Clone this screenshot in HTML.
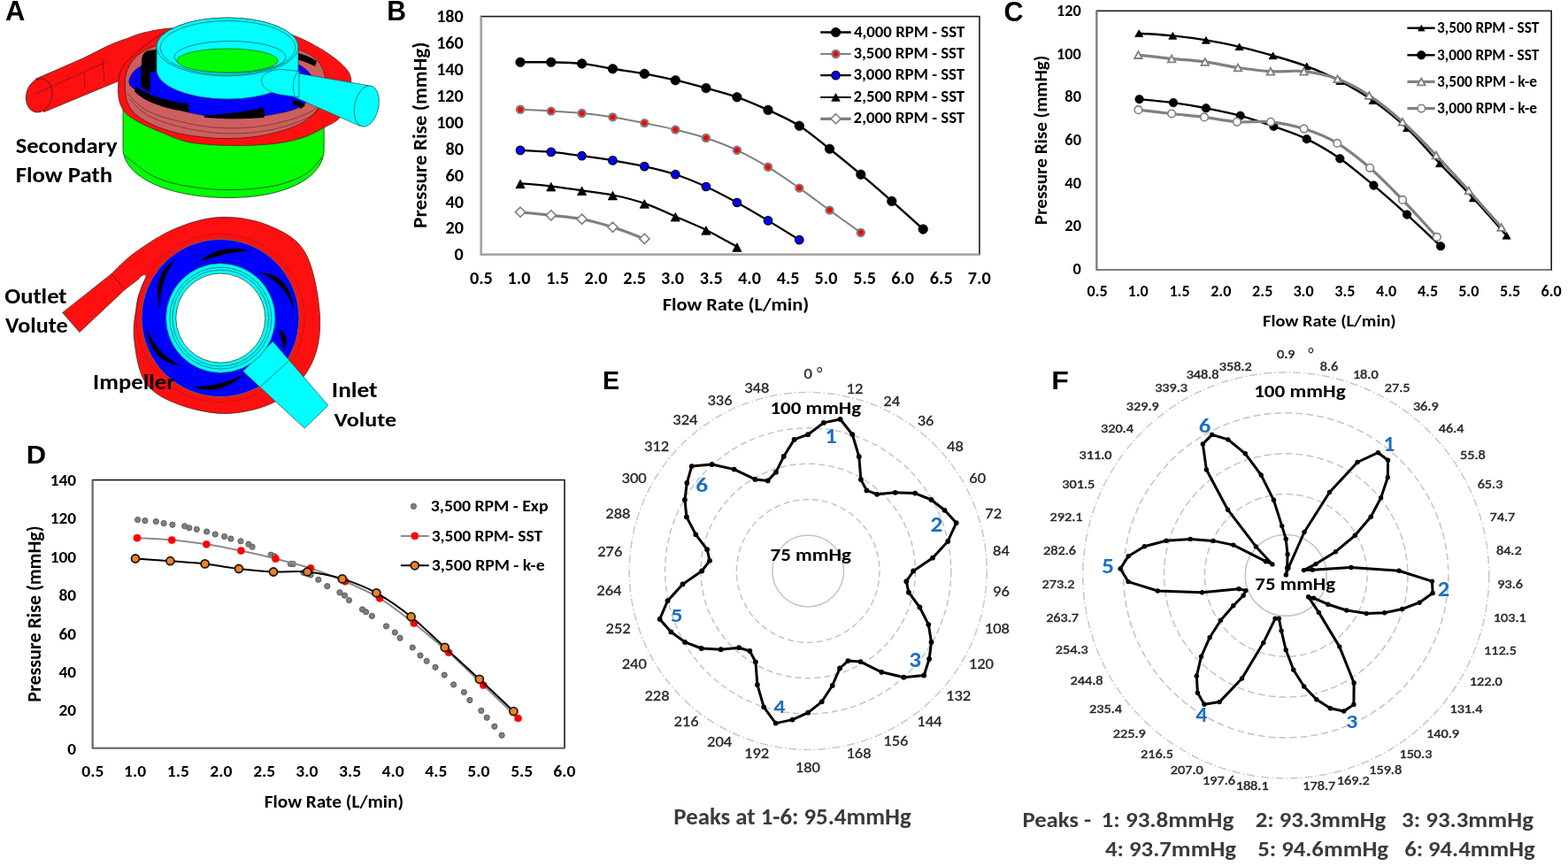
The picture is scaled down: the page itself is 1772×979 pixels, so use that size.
<!DOCTYPE html>
<html><head><meta charset="utf-8"><title>Figure</title>
<style>html,body{margin:0;padding:0;background:#fff;} svg{display:block;}</style>
</head><body>
<svg width="1772" height="979" viewBox="0 0 1772 979">
<rect x="0" y="0" width="1772" height="979" fill="#fff"/>
<rect x="543.6" y="18.6" width="563.3" height="269.0" fill="none" stroke="#1a1a1a" stroke-width="1.6"/>
<line x1="543.6" y1="18.6" x2="543.6" y2="287.6" stroke="#a6a6a6" stroke-width="1.8"/>
<line x1="543.6" y1="287.6" x2="1106.9" y2="287.6" stroke="#a6a6a6" stroke-width="1.8"/>
<path d="M588.0,239.8 C593.8,240.4 611.2,242.1 622.8,243.4 C634.4,244.7 646.0,245.5 657.6,247.7 C669.2,249.9 680.6,253.1 692.4,256.8 C704.2,260.5 722.3,267.7 728.3,269.9" fill="none" stroke="#7f7f7f" stroke-width="3.2" stroke-linejoin="round" stroke-linecap="round"/>
<polygon points="588.0,234.2 593.6,239.8 588.0,245.4 582.4,239.8" fill="#fff" stroke="#7f7f7f" stroke-width="1.6"/>
<polygon points="622.8,237.8 628.4,243.4 622.8,249.0 617.2,243.4" fill="#fff" stroke="#7f7f7f" stroke-width="1.6"/>
<polygon points="657.6,242.1 663.2,247.7 657.6,253.3 652.0,247.7" fill="#fff" stroke="#7f7f7f" stroke-width="1.6"/>
<polygon points="692.4,251.2 698.0,256.8 692.4,262.4 686.8,256.8" fill="#fff" stroke="#7f7f7f" stroke-width="1.6"/>
<polygon points="728.3,264.3 733.9,269.9 728.3,275.5 722.7,269.9" fill="#fff" stroke="#7f7f7f" stroke-width="1.6"/>
<path d="M588.0,207.4 C593.8,207.9 611.2,209.3 622.8,210.6 C634.4,211.9 646.0,213.7 657.6,215.3 C669.2,217.0 680.6,218.1 692.4,220.5 C704.2,222.9 716.5,225.9 728.3,229.9 C740.1,233.9 751.7,239.7 763.3,244.7 C774.9,249.7 786.3,254.2 797.9,259.9 C809.5,265.6 827.1,275.8 832.9,279.0" fill="none" stroke="#000" stroke-width="2.2" stroke-linejoin="round" stroke-linecap="round"/>
<polygon points="588.0,203.2 593.1,212.8 582.9,212.8" fill="#000" stroke="#000" stroke-width="0.8" stroke-linejoin="miter"/>
<polygon points="622.8,206.4 627.9,216.0 617.7,216.0" fill="#000" stroke="#000" stroke-width="0.8" stroke-linejoin="miter"/>
<polygon points="657.6,211.1 662.7,220.7 652.5,220.7" fill="#000" stroke="#000" stroke-width="0.8" stroke-linejoin="miter"/>
<polygon points="692.4,216.3 697.5,225.9 687.3,225.9" fill="#000" stroke="#000" stroke-width="0.8" stroke-linejoin="miter"/>
<polygon points="728.3,225.7 733.4,235.3 723.2,235.3" fill="#000" stroke="#000" stroke-width="0.8" stroke-linejoin="miter"/>
<polygon points="763.3,240.5 768.4,250.1 758.2,250.1" fill="#000" stroke="#000" stroke-width="0.8" stroke-linejoin="miter"/>
<polygon points="797.9,255.7 803.0,265.3 792.8,265.3" fill="#000" stroke="#000" stroke-width="0.8" stroke-linejoin="miter"/>
<polygon points="832.9,274.8 838.0,284.4 827.8,284.4" fill="#000" stroke="#000" stroke-width="0.8" stroke-linejoin="miter"/>
<path d="M588.0,169.9 C593.8,170.2 611.2,170.9 622.8,171.9 C634.4,172.9 646.0,174.6 657.6,176.2 C669.2,177.8 680.6,179.4 692.4,181.4 C704.2,183.4 716.5,185.5 728.3,188.1 C740.1,190.7 751.7,193.4 763.3,197.2 C774.9,201.0 786.3,205.7 797.9,211.0 C809.5,216.3 821.2,222.6 832.9,229.0 C844.6,235.4 856.3,242.4 868.0,249.4 C879.7,256.4 897.4,267.6 903.3,271.2" fill="none" stroke="#000" stroke-width="2.2" stroke-linejoin="round" stroke-linecap="round"/>
<circle cx="588.0" cy="169.9" r="4.70" fill="#0000ff" stroke="#000" stroke-width="1.3"/>
<circle cx="622.8" cy="171.9" r="4.70" fill="#0000ff" stroke="#000" stroke-width="1.3"/>
<circle cx="657.6" cy="176.2" r="4.70" fill="#0000ff" stroke="#000" stroke-width="1.3"/>
<circle cx="692.4" cy="181.4" r="4.70" fill="#0000ff" stroke="#000" stroke-width="1.3"/>
<circle cx="728.3" cy="188.1" r="4.70" fill="#0000ff" stroke="#000" stroke-width="1.3"/>
<circle cx="763.3" cy="197.2" r="4.70" fill="#0000ff" stroke="#000" stroke-width="1.3"/>
<circle cx="797.9" cy="211.0" r="4.70" fill="#0000ff" stroke="#000" stroke-width="1.3"/>
<circle cx="832.9" cy="229.0" r="4.70" fill="#0000ff" stroke="#000" stroke-width="1.3"/>
<circle cx="868.0" cy="249.4" r="4.70" fill="#0000ff" stroke="#000" stroke-width="1.3"/>
<circle cx="903.3" cy="271.2" r="4.70" fill="#0000ff" stroke="#000" stroke-width="1.3"/>
<path d="M588.0,123.7 C593.8,124.0 611.2,124.9 622.8,125.6 C634.4,126.3 646.0,126.9 657.6,128.0 C669.2,129.1 680.6,130.6 692.4,132.4 C704.2,134.2 716.5,136.7 728.3,139.1 C740.1,141.5 751.7,143.8 763.3,146.6 C774.9,149.4 786.3,152.1 797.9,156.0 C809.5,159.9 821.2,164.3 832.9,169.8 C844.6,175.3 856.3,181.7 868.0,188.8 C879.7,195.9 891.7,204.5 903.3,212.6 C914.9,220.7 925.9,229.2 937.5,237.6 C949.1,246.0 966.9,258.8 972.8,263.0" fill="none" stroke="#7f7f7f" stroke-width="2.0" stroke-linejoin="round" stroke-linecap="round"/>
<circle cx="588.0" cy="123.7" r="4.10" fill="#ff0000" stroke="#7f7f7f" stroke-width="2.2"/>
<circle cx="622.8" cy="125.6" r="4.10" fill="#ff0000" stroke="#7f7f7f" stroke-width="2.2"/>
<circle cx="657.6" cy="128.0" r="4.10" fill="#ff0000" stroke="#7f7f7f" stroke-width="2.2"/>
<circle cx="692.4" cy="132.4" r="4.10" fill="#ff0000" stroke="#7f7f7f" stroke-width="2.2"/>
<circle cx="728.3" cy="139.1" r="4.10" fill="#ff0000" stroke="#7f7f7f" stroke-width="2.2"/>
<circle cx="763.3" cy="146.6" r="4.10" fill="#ff0000" stroke="#7f7f7f" stroke-width="2.2"/>
<circle cx="797.9" cy="156.0" r="4.10" fill="#ff0000" stroke="#7f7f7f" stroke-width="2.2"/>
<circle cx="832.9" cy="169.8" r="4.10" fill="#ff0000" stroke="#7f7f7f" stroke-width="2.2"/>
<circle cx="868.0" cy="188.8" r="4.10" fill="#ff0000" stroke="#7f7f7f" stroke-width="2.2"/>
<circle cx="903.3" cy="212.6" r="4.10" fill="#ff0000" stroke="#7f7f7f" stroke-width="2.2"/>
<circle cx="937.5" cy="237.6" r="4.10" fill="#ff0000" stroke="#7f7f7f" stroke-width="2.2"/>
<circle cx="972.8" cy="263.0" r="4.10" fill="#ff0000" stroke="#7f7f7f" stroke-width="2.2"/>
<path d="M588.0,70.3 C593.8,70.3 611.2,70.0 622.8,70.3 C634.4,70.6 646.0,70.7 657.6,71.9 C669.2,73.2 680.6,75.9 692.4,77.8 C704.2,79.7 716.5,81.2 728.3,83.4 C740.1,85.6 751.7,88.0 763.3,90.7 C774.9,93.4 786.3,96.4 797.9,99.6 C809.5,102.8 821.2,105.7 832.9,109.8 C844.6,113.9 856.3,119.0 868.0,124.4 C879.7,129.8 891.7,134.9 903.3,142.2 C914.9,149.5 925.9,159.1 937.5,168.3 C949.1,177.5 961.1,187.3 972.8,197.2 C984.5,207.0 996.1,217.1 1007.8,227.4 C1019.5,237.7 1037.3,253.8 1043.2,259.1" fill="none" stroke="#000" stroke-width="2.4" stroke-linejoin="round" stroke-linecap="round"/>
<circle cx="588.0" cy="70.3" r="5.30" fill="#000" stroke="#000" stroke-width="0.6"/>
<circle cx="622.8" cy="70.3" r="5.30" fill="#000" stroke="#000" stroke-width="0.6"/>
<circle cx="657.6" cy="71.9" r="5.30" fill="#000" stroke="#000" stroke-width="0.6"/>
<circle cx="692.4" cy="77.8" r="5.30" fill="#000" stroke="#000" stroke-width="0.6"/>
<circle cx="728.3" cy="83.4" r="5.30" fill="#000" stroke="#000" stroke-width="0.6"/>
<circle cx="763.3" cy="90.7" r="5.30" fill="#000" stroke="#000" stroke-width="0.6"/>
<circle cx="797.9" cy="99.6" r="5.30" fill="#000" stroke="#000" stroke-width="0.6"/>
<circle cx="832.9" cy="109.8" r="5.30" fill="#000" stroke="#000" stroke-width="0.6"/>
<circle cx="868.0" cy="124.4" r="5.30" fill="#000" stroke="#000" stroke-width="0.6"/>
<circle cx="903.3" cy="142.2" r="5.30" fill="#000" stroke="#000" stroke-width="0.6"/>
<circle cx="937.5" cy="168.3" r="5.30" fill="#000" stroke="#000" stroke-width="0.6"/>
<circle cx="972.8" cy="197.2" r="5.30" fill="#000" stroke="#000" stroke-width="0.6"/>
<circle cx="1007.8" cy="227.4" r="5.30" fill="#000" stroke="#000" stroke-width="0.6"/>
<circle cx="1043.2" cy="259.1" r="5.30" fill="#000" stroke="#000" stroke-width="0.6"/>
<line x1="927.2" y1="36.5" x2="961.7" y2="36.5" stroke="#000" stroke-width="2.4"/><circle cx="944.5" cy="36.5" r="5.30" fill="#000" stroke="#000" stroke-width="0.6"/>
<line x1="927.2" y1="61.0" x2="961.7" y2="61.0" stroke="#7f7f7f" stroke-width="2"/><circle cx="944.5" cy="61.0" r="4.10" fill="#ff0000" stroke="#7f7f7f" stroke-width="2.2"/>
<line x1="927.2" y1="85.2" x2="961.7" y2="85.2" stroke="#000" stroke-width="2.2"/><circle cx="944.5" cy="85.2" r="4.70" fill="#0000ff" stroke="#000" stroke-width="1.3"/>
<line x1="927.2" y1="110.0" x2="961.7" y2="110.0" stroke="#000" stroke-width="2.2"/><polygon points="944.5,105.7 949.2,114.3 939.8,114.3" fill="#000" stroke="#000" stroke-width="0.8" stroke-linejoin="miter"/>
<line x1="927.2" y1="134.3" x2="961.7" y2="134.3" stroke="#7f7f7f" stroke-width="3.2"/><polygon points="944.5,128.7 950.1,134.3 944.5,139.9 938.9,134.3" fill="#fff" stroke="#7f7f7f" stroke-width="1.6"/>
<rect x="1239.4" y="12.3" width="513.8" height="292.9" fill="none" stroke="#1a1a1a" stroke-width="1.6"/>
<line x1="1239.4" y1="12.3" x2="1239.4" y2="305.2" stroke="#7f7f7f" stroke-width="1.8"/>
<line x1="1239.4" y1="305.2" x2="1753.2" y2="305.2" stroke="#7f7f7f" stroke-width="1.8"/>
<path d="M1287.2,37.7 C1293.5,38.2 1312.7,39.1 1325.3,40.4 C1337.9,41.7 1350.4,43.3 1362.9,45.4 C1375.5,47.5 1388.0,49.9 1400.6,52.8 C1413.2,55.7 1425.9,59.2 1438.6,62.9 C1451.3,66.6 1464.1,70.1 1476.7,74.9 C1489.3,79.7 1501.8,85.1 1514.3,91.6 C1526.8,98.1 1539.0,104.8 1551.6,113.7 C1564.2,122.6 1577.4,133.0 1590.0,144.8 C1602.6,156.7 1614.5,171.6 1627.0,184.8 C1639.5,198.0 1652.3,210.4 1664.9,224.0 C1677.5,237.6 1696.3,259.2 1702.6,266.3" fill="none" stroke="#000" stroke-width="2.4" stroke-linejoin="round" stroke-linecap="round"/>
<polygon points="1287.2,33.8 1291.7,41.6 1282.7,41.6" fill="#000" stroke="#000" stroke-width="0.8" stroke-linejoin="miter"/>
<polygon points="1325.3,36.5 1329.8,44.3 1320.8,44.3" fill="#000" stroke="#000" stroke-width="0.8" stroke-linejoin="miter"/>
<polygon points="1362.9,41.5 1367.4,49.3 1358.4,49.3" fill="#000" stroke="#000" stroke-width="0.8" stroke-linejoin="miter"/>
<polygon points="1400.6,48.9 1405.1,56.7 1396.1,56.7" fill="#000" stroke="#000" stroke-width="0.8" stroke-linejoin="miter"/>
<polygon points="1438.6,59.0 1443.1,66.8 1434.1,66.8" fill="#000" stroke="#000" stroke-width="0.8" stroke-linejoin="miter"/>
<polygon points="1476.7,71.0 1481.2,78.8 1472.2,78.8" fill="#000" stroke="#000" stroke-width="0.8" stroke-linejoin="miter"/>
<polygon points="1514.3,87.7 1518.8,95.5 1509.8,95.5" fill="#000" stroke="#000" stroke-width="0.8" stroke-linejoin="miter"/>
<polygon points="1551.6,109.8 1556.1,117.6 1547.1,117.6" fill="#000" stroke="#000" stroke-width="0.8" stroke-linejoin="miter"/>
<polygon points="1590.0,140.9 1594.5,148.7 1585.5,148.7" fill="#000" stroke="#000" stroke-width="0.8" stroke-linejoin="miter"/>
<polygon points="1627.0,180.9 1631.5,188.7 1622.5,188.7" fill="#000" stroke="#000" stroke-width="0.8" stroke-linejoin="miter"/>
<polygon points="1664.9,220.1 1669.4,227.9 1660.4,227.9" fill="#000" stroke="#000" stroke-width="0.8" stroke-linejoin="miter"/>
<polygon points="1702.6,262.4 1707.1,270.2 1698.1,270.2" fill="#000" stroke="#000" stroke-width="0.8" stroke-linejoin="miter"/>
<path d="M1287.6,112.2 C1294.0,112.8 1313.5,114.4 1326.0,116.1 C1338.5,117.8 1350.3,119.8 1362.9,122.3 C1375.5,124.8 1389.0,127.4 1401.7,130.8 C1414.5,134.2 1426.9,138.5 1439.4,142.9 C1451.9,147.3 1464.2,151.1 1476.7,157.2 C1489.2,163.3 1501.7,170.6 1514.3,179.3 C1526.9,188.0 1539.8,199.1 1552.4,209.6 C1565.0,220.1 1577.4,231.1 1590.0,242.6 C1602.6,254.1 1621.8,272.4 1628.1,278.3" fill="none" stroke="#000" stroke-width="2.4" stroke-linejoin="round" stroke-linecap="round"/>
<circle cx="1287.6" cy="112.2" r="4.80" fill="#000" stroke="#000" stroke-width="0.6"/>
<circle cx="1326.0" cy="116.1" r="4.80" fill="#000" stroke="#000" stroke-width="0.6"/>
<circle cx="1362.9" cy="122.3" r="4.80" fill="#000" stroke="#000" stroke-width="0.6"/>
<circle cx="1401.7" cy="130.8" r="4.80" fill="#000" stroke="#000" stroke-width="0.6"/>
<circle cx="1439.4" cy="142.9" r="4.80" fill="#000" stroke="#000" stroke-width="0.6"/>
<circle cx="1476.7" cy="157.2" r="4.80" fill="#000" stroke="#000" stroke-width="0.6"/>
<circle cx="1514.3" cy="179.3" r="4.80" fill="#000" stroke="#000" stroke-width="0.6"/>
<circle cx="1552.4" cy="209.6" r="4.80" fill="#000" stroke="#000" stroke-width="0.6"/>
<circle cx="1590.0" cy="242.6" r="4.80" fill="#000" stroke="#000" stroke-width="0.6"/>
<circle cx="1628.1" cy="278.3" r="4.80" fill="#000" stroke="#000" stroke-width="0.6"/>
<path d="M1286.4,62.1 C1292.7,62.8 1311.5,65.1 1324.1,66.4 C1336.7,67.7 1349.3,68.2 1361.8,69.9 C1374.3,71.6 1386.7,74.7 1399.0,76.5 C1411.3,78.3 1423.5,80.0 1435.9,80.7 C1448.3,81.4 1461.0,79.3 1473.6,80.7 C1486.2,82.1 1499.3,84.8 1511.6,89.3 C1523.9,93.8 1535.1,99.8 1547.3,107.9 C1559.5,116.0 1572.4,126.5 1585.0,137.8 C1597.6,149.1 1610.5,162.6 1623.0,175.5 C1635.5,188.4 1647.6,201.9 1659.9,215.5 C1672.2,229.1 1690.7,250.1 1696.8,257.0" fill="none" stroke="#808080" stroke-width="3.2" stroke-linejoin="round" stroke-linecap="round"/>
<polygon points="1286.4,58.2 1290.7,66.0 1282.1,66.0" fill="#fff" stroke="#808080" stroke-width="1.8" stroke-linejoin="miter"/>
<polygon points="1324.1,62.5 1328.4,70.3 1319.8,70.3" fill="#fff" stroke="#808080" stroke-width="1.8" stroke-linejoin="miter"/>
<polygon points="1361.8,66.0 1366.1,73.8 1357.5,73.8" fill="#fff" stroke="#808080" stroke-width="1.8" stroke-linejoin="miter"/>
<polygon points="1399.0,72.6 1403.3,80.4 1394.7,80.4" fill="#fff" stroke="#808080" stroke-width="1.8" stroke-linejoin="miter"/>
<polygon points="1435.9,76.8 1440.2,84.6 1431.6,84.6" fill="#fff" stroke="#808080" stroke-width="1.8" stroke-linejoin="miter"/>
<polygon points="1473.6,76.8 1477.9,84.6 1469.3,84.6" fill="#fff" stroke="#808080" stroke-width="1.8" stroke-linejoin="miter"/>
<polygon points="1511.6,85.4 1515.9,93.2 1507.3,93.2" fill="#fff" stroke="#808080" stroke-width="1.8" stroke-linejoin="miter"/>
<polygon points="1547.3,104.0 1551.6,111.8 1543.0,111.8" fill="#fff" stroke="#808080" stroke-width="1.8" stroke-linejoin="miter"/>
<polygon points="1585.0,133.9 1589.3,141.7 1580.7,141.7" fill="#fff" stroke="#808080" stroke-width="1.8" stroke-linejoin="miter"/>
<polygon points="1623.0,171.6 1627.3,179.4 1618.7,179.4" fill="#fff" stroke="#808080" stroke-width="1.8" stroke-linejoin="miter"/>
<polygon points="1659.9,211.6 1664.2,219.4 1655.6,219.4" fill="#fff" stroke="#808080" stroke-width="1.8" stroke-linejoin="miter"/>
<polygon points="1696.8,253.1 1701.1,260.9 1692.5,260.9" fill="#fff" stroke="#808080" stroke-width="1.8" stroke-linejoin="miter"/>
<path d="M1286.4,124.2 C1292.7,124.9 1311.7,127.1 1324.1,128.5 C1336.5,129.9 1348.7,130.8 1361.0,132.4 C1373.3,134.0 1385.4,136.9 1397.9,137.8 C1410.4,138.7 1423.4,136.5 1436.0,137.8 C1448.6,139.1 1461.1,141.6 1473.6,145.6 C1486.1,149.6 1498.8,154.5 1511.2,161.9 C1523.6,169.3 1535.8,179.1 1548.1,189.8 C1560.4,200.5 1572.4,212.9 1585.0,225.9 C1597.6,238.9 1617.3,260.9 1623.8,267.9" fill="none" stroke="#808080" stroke-width="3.2" stroke-linejoin="round" stroke-linecap="round"/>
<circle cx="1286.4" cy="124.2" r="4.30" fill="#fff" stroke="#808080" stroke-width="1.6"/>
<circle cx="1324.1" cy="128.5" r="4.30" fill="#fff" stroke="#808080" stroke-width="1.6"/>
<circle cx="1361.0" cy="132.4" r="4.30" fill="#fff" stroke="#808080" stroke-width="1.6"/>
<circle cx="1397.9" cy="137.8" r="4.30" fill="#fff" stroke="#808080" stroke-width="1.6"/>
<circle cx="1436.0" cy="137.8" r="4.30" fill="#fff" stroke="#808080" stroke-width="1.6"/>
<circle cx="1473.6" cy="145.6" r="4.30" fill="#fff" stroke="#808080" stroke-width="1.6"/>
<circle cx="1511.2" cy="161.9" r="4.30" fill="#fff" stroke="#808080" stroke-width="1.6"/>
<circle cx="1548.1" cy="189.8" r="4.30" fill="#fff" stroke="#808080" stroke-width="1.6"/>
<circle cx="1585.0" cy="225.9" r="4.30" fill="#fff" stroke="#808080" stroke-width="1.6"/>
<circle cx="1623.8" cy="267.9" r="4.30" fill="#fff" stroke="#808080" stroke-width="1.6"/>
<line x1="1590.4" y1="31.7" x2="1621.6" y2="31.7" stroke="#000" stroke-width="2.4"/><polygon points="1606.3,28.3 1610.1,35.1 1602.5,35.1" fill="#000" stroke="#000" stroke-width="0.6" stroke-linejoin="miter"/>
<line x1="1590.4" y1="62.3" x2="1621.6" y2="62.3" stroke="#000" stroke-width="2.4"/><circle cx="1606.3" cy="62.3" r="4.80" fill="#000" stroke="#000" stroke-width="0.6"/>
<line x1="1590.4" y1="92.4" x2="1621.6" y2="92.4" stroke="#808080" stroke-width="3.2"/><polygon points="1606.3,88.5 1610.6,96.3 1602.0,96.3" fill="#fff" stroke="#808080" stroke-width="1.8" stroke-linejoin="miter"/>
<line x1="1590.4" y1="122.6" x2="1621.6" y2="122.6" stroke="#808080" stroke-width="3.2"/><circle cx="1606.3" cy="122.6" r="4.30" fill="#fff" stroke="#808080" stroke-width="1.6"/>
<rect x="104.6" y="542.6" width="533.4" height="303.1" fill="none" stroke="#1a1a1a" stroke-width="1.6"/>
<line x1="104.6" y1="542.6" x2="104.6" y2="845.7" stroke="#6f6f6f" stroke-width="1.8"/>
<line x1="104.6" y1="845.7" x2="638.0" y2="845.7" stroke="#6f6f6f" stroke-width="1.8"/>
<circle cx="155.6" cy="587.6" r="3.10" fill="#808080" stroke="#5a5a5a" stroke-width="1.0"/>
<circle cx="163.9" cy="588.6" r="3.10" fill="#808080" stroke="#5a5a5a" stroke-width="1.0"/>
<circle cx="176.3" cy="589.5" r="3.10" fill="#808080" stroke="#5a5a5a" stroke-width="1.0"/>
<circle cx="185.1" cy="591.6" r="3.10" fill="#808080" stroke="#5a5a5a" stroke-width="1.0"/>
<circle cx="194.9" cy="593.2" r="3.10" fill="#808080" stroke="#5a5a5a" stroke-width="1.0"/>
<circle cx="208.7" cy="594.8" r="3.10" fill="#808080" stroke="#5a5a5a" stroke-width="1.0"/>
<circle cx="213.8" cy="596.8" r="3.10" fill="#808080" stroke="#5a5a5a" stroke-width="1.0"/>
<circle cx="222.3" cy="598.4" r="3.10" fill="#808080" stroke="#5a5a5a" stroke-width="1.0"/>
<circle cx="233.6" cy="601.0" r="3.10" fill="#808080" stroke="#5a5a5a" stroke-width="1.0"/>
<circle cx="243.2" cy="604.0" r="3.10" fill="#808080" stroke="#5a5a5a" stroke-width="1.0"/>
<circle cx="253.6" cy="606.5" r="3.10" fill="#808080" stroke="#5a5a5a" stroke-width="1.0"/>
<circle cx="260.9" cy="609.0" r="3.10" fill="#808080" stroke="#5a5a5a" stroke-width="1.0"/>
<circle cx="272.0" cy="611.8" r="3.10" fill="#808080" stroke="#5a5a5a" stroke-width="1.0"/>
<circle cx="280.9" cy="615.2" r="3.10" fill="#808080" stroke="#5a5a5a" stroke-width="1.0"/>
<circle cx="285.1" cy="618.2" r="3.10" fill="#808080" stroke="#5a5a5a" stroke-width="1.0"/>
<circle cx="306.2" cy="627.2" r="3.10" fill="#808080" stroke="#5a5a5a" stroke-width="1.0"/>
<circle cx="310.3" cy="628.8" r="3.10" fill="#808080" stroke="#5a5a5a" stroke-width="1.0"/>
<circle cx="328.3" cy="637.5" r="3.10" fill="#808080" stroke="#5a5a5a" stroke-width="1.0"/>
<circle cx="331.3" cy="637.6" r="3.10" fill="#808080" stroke="#5a5a5a" stroke-width="1.0"/>
<circle cx="342.9" cy="647.3" r="3.10" fill="#808080" stroke="#5a5a5a" stroke-width="1.0"/>
<circle cx="351.1" cy="650.0" r="3.10" fill="#808080" stroke="#5a5a5a" stroke-width="1.0"/>
<circle cx="359.8" cy="655.3" r="3.10" fill="#808080" stroke="#5a5a5a" stroke-width="1.0"/>
<circle cx="369.8" cy="662.7" r="3.10" fill="#808080" stroke="#5a5a5a" stroke-width="1.0"/>
<circle cx="383.9" cy="669.8" r="3.10" fill="#808080" stroke="#5a5a5a" stroke-width="1.0"/>
<circle cx="389.5" cy="673.2" r="3.10" fill="#808080" stroke="#5a5a5a" stroke-width="1.0"/>
<circle cx="394.5" cy="678.6" r="3.10" fill="#808080" stroke="#5a5a5a" stroke-width="1.0"/>
<circle cx="409.5" cy="688.9" r="3.10" fill="#808080" stroke="#5a5a5a" stroke-width="1.0"/>
<circle cx="413.6" cy="691.8" r="3.10" fill="#808080" stroke="#5a5a5a" stroke-width="1.0"/>
<circle cx="420.3" cy="696.4" r="3.10" fill="#808080" stroke="#5a5a5a" stroke-width="1.0"/>
<circle cx="436.5" cy="707.9" r="3.10" fill="#808080" stroke="#5a5a5a" stroke-width="1.0"/>
<circle cx="446.3" cy="715.0" r="3.10" fill="#808080" stroke="#5a5a5a" stroke-width="1.0"/>
<circle cx="452.0" cy="721.2" r="3.10" fill="#808080" stroke="#5a5a5a" stroke-width="1.0"/>
<circle cx="466.2" cy="732.0" r="3.10" fill="#808080" stroke="#5a5a5a" stroke-width="1.0"/>
<circle cx="475.0" cy="741.0" r="3.10" fill="#808080" stroke="#5a5a5a" stroke-width="1.0"/>
<circle cx="482.2" cy="747.3" r="3.10" fill="#808080" stroke="#5a5a5a" stroke-width="1.0"/>
<circle cx="492.0" cy="754.3" r="3.10" fill="#808080" stroke="#5a5a5a" stroke-width="1.0"/>
<circle cx="502.2" cy="763.1" r="3.10" fill="#808080" stroke="#5a5a5a" stroke-width="1.0"/>
<circle cx="512.6" cy="773.9" r="3.10" fill="#808080" stroke="#5a5a5a" stroke-width="1.0"/>
<circle cx="524.4" cy="782.5" r="3.10" fill="#808080" stroke="#5a5a5a" stroke-width="1.0"/>
<circle cx="530.8" cy="791.5" r="3.10" fill="#808080" stroke="#5a5a5a" stroke-width="1.0"/>
<circle cx="543.8" cy="803.4" r="3.10" fill="#808080" stroke="#5a5a5a" stroke-width="1.0"/>
<circle cx="550.2" cy="811.2" r="3.10" fill="#808080" stroke="#5a5a5a" stroke-width="1.0"/>
<circle cx="558.8" cy="821.2" r="3.10" fill="#808080" stroke="#5a5a5a" stroke-width="1.0"/>
<circle cx="567.1" cy="831.2" r="3.10" fill="#808080" stroke="#5a5a5a" stroke-width="1.0"/>
<path d="M155.0,608.2 C161.5,608.6 181.1,609.4 194.2,610.6 C207.2,611.8 220.3,613.3 233.3,615.3 C246.3,617.3 259.4,619.9 272.4,622.6 C285.4,625.3 298.4,628.4 311.5,631.7 C324.6,635.0 338.0,638.1 351.1,642.4 C364.2,646.7 377.1,651.6 390.1,657.3 C403.1,662.9 416.2,668.4 429.1,676.3 C442.1,684.2 454.8,694.4 467.8,704.6 C480.8,714.8 493.9,725.9 507.0,737.6 C520.1,749.3 533.1,762.2 546.2,774.6 C559.3,787.0 579.0,805.8 585.5,812.0" fill="none" stroke="#8c8c8c" stroke-width="2.0" stroke-linejoin="round" stroke-linecap="round"/>
<circle cx="155.0" cy="608.2" r="4.10" fill="#ff0000" stroke="#ff2020" stroke-width="0.5"/>
<circle cx="194.2" cy="610.6" r="4.10" fill="#ff0000" stroke="#ff2020" stroke-width="0.5"/>
<circle cx="233.3" cy="615.3" r="4.10" fill="#ff0000" stroke="#ff2020" stroke-width="0.5"/>
<circle cx="272.4" cy="622.6" r="4.10" fill="#ff0000" stroke="#ff2020" stroke-width="0.5"/>
<circle cx="311.5" cy="631.7" r="4.10" fill="#ff0000" stroke="#ff2020" stroke-width="0.5"/>
<circle cx="351.1" cy="642.4" r="4.10" fill="#ff0000" stroke="#ff2020" stroke-width="0.5"/>
<circle cx="390.1" cy="657.3" r="4.10" fill="#ff0000" stroke="#ff2020" stroke-width="0.5"/>
<circle cx="429.1" cy="676.3" r="4.10" fill="#ff0000" stroke="#ff2020" stroke-width="0.5"/>
<circle cx="467.8" cy="704.6" r="4.10" fill="#ff0000" stroke="#ff2020" stroke-width="0.5"/>
<circle cx="507.0" cy="737.6" r="4.10" fill="#ff0000" stroke="#ff2020" stroke-width="0.5"/>
<circle cx="546.2" cy="774.6" r="4.10" fill="#ff0000" stroke="#ff2020" stroke-width="0.5"/>
<circle cx="585.5" cy="812.0" r="4.10" fill="#ff0000" stroke="#ff2020" stroke-width="0.5"/>
<path d="M153.0,631.5 C159.6,632.0 179.3,633.2 192.4,634.2 C205.5,635.2 218.7,635.9 231.6,637.4 C244.5,638.9 257.0,641.5 269.9,643.0 C282.8,644.5 296.1,645.9 309.0,646.5 C321.9,647.1 334.4,645.2 347.4,646.5 C360.4,647.8 373.8,650.4 386.8,654.4 C399.8,658.4 412.4,663.2 425.4,670.3 C438.4,677.4 451.7,686.9 464.6,697.2 C477.5,707.5 489.8,720.1 502.7,731.9 C515.6,743.7 528.8,755.8 541.8,767.8 C554.8,779.8 574.0,798.1 580.4,804.2" fill="none" stroke="#000" stroke-width="2.0" stroke-linejoin="round" stroke-linecap="round"/>
<circle cx="153.0" cy="631.5" r="4.50" fill="#f28020" stroke="#1a1a1a" stroke-width="1.8"/>
<circle cx="192.4" cy="634.2" r="4.50" fill="#f28020" stroke="#1a1a1a" stroke-width="1.8"/>
<circle cx="231.6" cy="637.4" r="4.50" fill="#f28020" stroke="#1a1a1a" stroke-width="1.8"/>
<circle cx="269.9" cy="643.0" r="4.50" fill="#f28020" stroke="#1a1a1a" stroke-width="1.8"/>
<circle cx="309.0" cy="646.5" r="4.50" fill="#f28020" stroke="#1a1a1a" stroke-width="1.8"/>
<circle cx="347.4" cy="646.5" r="4.50" fill="#f28020" stroke="#1a1a1a" stroke-width="1.8"/>
<circle cx="386.8" cy="654.4" r="4.50" fill="#f28020" stroke="#1a1a1a" stroke-width="1.8"/>
<circle cx="425.4" cy="670.3" r="4.50" fill="#f28020" stroke="#1a1a1a" stroke-width="1.8"/>
<circle cx="464.6" cy="697.2" r="4.50" fill="#f28020" stroke="#1a1a1a" stroke-width="1.8"/>
<circle cx="502.7" cy="731.9" r="4.50" fill="#f28020" stroke="#1a1a1a" stroke-width="1.8"/>
<circle cx="541.8" cy="767.8" r="4.50" fill="#f28020" stroke="#1a1a1a" stroke-width="1.8"/>
<circle cx="580.4" cy="804.2" r="4.50" fill="#f28020" stroke="#1a1a1a" stroke-width="1.8"/>
<circle cx="467.4" cy="572.4" r="3.10" fill="#808080" stroke="#5a5a5a" stroke-width="1.0"/>
<line x1="452.9" y1="605.9" x2="484.8" y2="605.9" stroke="#8c8c8c" stroke-width="2"/><circle cx="468.8" cy="605.9" r="4.10" fill="#ff0000" stroke="#ff2020" stroke-width="0.5"/>
<line x1="452.9" y1="639.3" x2="484.8" y2="639.3" stroke="#000" stroke-width="2"/><circle cx="468.8" cy="639.3" r="4.50" fill="#f28020" stroke="#1a1a1a" stroke-width="1.8"/>
<circle cx="913.2" cy="645.5" r="40.4" fill="none" stroke="#c4c4c4" stroke-width="1.5"/>
<circle cx="913.2" cy="645.5" r="80.8" fill="none" stroke="#c4c4c4" stroke-width="1.5" stroke-dasharray="7 4"/>
<circle cx="913.2" cy="645.5" r="121.2" fill="none" stroke="#c4c4c4" stroke-width="1.5" stroke-dasharray="7 4"/>
<circle cx="913.2" cy="645.5" r="161.6" fill="none" stroke="#c4c4c4" stroke-width="1.5" stroke-dasharray="7 4"/>
<circle cx="913.2" cy="645.5" r="202.0" fill="none" stroke="#c8c8c8" stroke-width="1.5" stroke-dasharray="9 3 1.5 3"/>
<polygon points="913.2,491.2 930.8,477.9 949.6,474.0 963.3,491.2 970.8,516.2 972.9,542.1 979.4,554.4 991.2,558.8 1011.7,556.8 1034.1,557.6 1052.5,565.0 1067.5,576.8 1080.7,591.1 1071.2,611.9 1054.0,630.7 1032.2,645.5 1024.3,657.2 1026.9,669.7 1039.4,686.5 1049.3,706.1 1052.5,725.9 1050.1,745.0 1044.2,763.5 1021.4,765.7 996.3,759.8 972.5,748.1 958.4,747.1 949.0,755.5 940.7,775.0 928.7,793.3 913.2,805.7 895.5,813.6 876.6,817.6 863.2,799.3 855.9,774.1 853.9,748.3 847.4,736.0 835.1,732.2 814.7,734.2 792.7,733.0 774.0,725.9 758.4,714.4 745.6,699.9 754.5,679.2 771.5,660.4 793.2,645.5 802.0,633.8 799.1,621.2 786.3,604.3 775.9,584.4 773.9,565.0 776.3,546.0 781.7,527.1 804.7,525.0 829.7,530.6 853.4,541.9 867.7,543.4 876.9,533.8 885.7,516.0 897.6,496.9" fill="none" stroke="#000" stroke-width="3" stroke-linejoin="round"/>
<circle cx="913.2" cy="491.2" r="2.9" fill="#000"/>
<circle cx="930.8" cy="477.9" r="2.9" fill="#000"/>
<circle cx="949.6" cy="474.0" r="2.9" fill="#000"/>
<circle cx="963.3" cy="491.2" r="2.9" fill="#000"/>
<circle cx="970.8" cy="516.2" r="2.9" fill="#000"/>
<circle cx="972.9" cy="542.1" r="2.9" fill="#000"/>
<circle cx="979.4" cy="554.4" r="2.9" fill="#000"/>
<circle cx="991.2" cy="558.8" r="2.9" fill="#000"/>
<circle cx="1011.7" cy="556.8" r="2.9" fill="#000"/>
<circle cx="1034.1" cy="557.6" r="2.9" fill="#000"/>
<circle cx="1052.5" cy="565.0" r="2.9" fill="#000"/>
<circle cx="1067.5" cy="576.8" r="2.9" fill="#000"/>
<circle cx="1080.7" cy="591.1" r="2.9" fill="#000"/>
<circle cx="1071.2" cy="611.9" r="2.9" fill="#000"/>
<circle cx="1054.0" cy="630.7" r="2.9" fill="#000"/>
<circle cx="1032.2" cy="645.5" r="2.9" fill="#000"/>
<circle cx="1024.3" cy="657.2" r="2.9" fill="#000"/>
<circle cx="1026.9" cy="669.7" r="2.9" fill="#000"/>
<circle cx="1039.4" cy="686.5" r="2.9" fill="#000"/>
<circle cx="1049.3" cy="706.1" r="2.9" fill="#000"/>
<circle cx="1052.5" cy="725.9" r="2.9" fill="#000"/>
<circle cx="1050.1" cy="745.0" r="2.9" fill="#000"/>
<circle cx="1044.2" cy="763.5" r="2.9" fill="#000"/>
<circle cx="1021.4" cy="765.7" r="2.9" fill="#000"/>
<circle cx="996.3" cy="759.8" r="2.9" fill="#000"/>
<circle cx="972.5" cy="748.1" r="2.9" fill="#000"/>
<circle cx="958.4" cy="747.1" r="2.9" fill="#000"/>
<circle cx="949.0" cy="755.5" r="2.9" fill="#000"/>
<circle cx="940.7" cy="775.0" r="2.9" fill="#000"/>
<circle cx="928.7" cy="793.3" r="2.9" fill="#000"/>
<circle cx="913.2" cy="805.7" r="2.9" fill="#000"/>
<circle cx="895.5" cy="813.6" r="2.9" fill="#000"/>
<circle cx="876.6" cy="817.6" r="2.9" fill="#000"/>
<circle cx="863.2" cy="799.3" r="2.9" fill="#000"/>
<circle cx="855.9" cy="774.1" r="2.9" fill="#000"/>
<circle cx="853.9" cy="748.3" r="2.9" fill="#000"/>
<circle cx="847.4" cy="736.0" r="2.9" fill="#000"/>
<circle cx="835.1" cy="732.2" r="2.9" fill="#000"/>
<circle cx="814.7" cy="734.2" r="2.9" fill="#000"/>
<circle cx="792.7" cy="733.0" r="2.9" fill="#000"/>
<circle cx="774.0" cy="725.9" r="2.9" fill="#000"/>
<circle cx="758.4" cy="714.4" r="2.9" fill="#000"/>
<circle cx="745.6" cy="699.9" r="2.9" fill="#000"/>
<circle cx="754.5" cy="679.2" r="2.9" fill="#000"/>
<circle cx="771.5" cy="660.4" r="2.9" fill="#000"/>
<circle cx="793.2" cy="645.5" r="2.9" fill="#000"/>
<circle cx="802.0" cy="633.8" r="2.9" fill="#000"/>
<circle cx="799.1" cy="621.2" r="2.9" fill="#000"/>
<circle cx="786.3" cy="604.3" r="2.9" fill="#000"/>
<circle cx="775.9" cy="584.4" r="2.9" fill="#000"/>
<circle cx="773.9" cy="565.0" r="2.9" fill="#000"/>
<circle cx="776.3" cy="546.0" r="2.9" fill="#000"/>
<circle cx="781.7" cy="527.1" r="2.9" fill="#000"/>
<circle cx="804.7" cy="525.0" r="2.9" fill="#000"/>
<circle cx="829.7" cy="530.6" r="2.9" fill="#000"/>
<circle cx="853.4" cy="541.9" r="2.9" fill="#000"/>
<circle cx="867.7" cy="543.4" r="2.9" fill="#000"/>
<circle cx="876.9" cy="533.8" r="2.9" fill="#000"/>
<circle cx="885.7" cy="516.0" r="2.9" fill="#000"/>
<circle cx="897.6" cy="496.9" r="2.9" fill="#000"/>
<circle cx="1453.2" cy="650.4" r="45.9" fill="none" stroke="#c4c4c4" stroke-width="1.5"/>
<circle cx="1453.2" cy="650.4" r="91.8" fill="none" stroke="#c4c4c4" stroke-width="1.5" stroke-dasharray="8 4"/>
<circle cx="1453.2" cy="650.4" r="137.7" fill="none" stroke="#c4c4c4" stroke-width="1.5" stroke-dasharray="8 4"/>
<circle cx="1453.2" cy="650.4" r="183.6" fill="none" stroke="#c4c4c4" stroke-width="1.5" stroke-dasharray="8 4"/>
<circle cx="1453.2" cy="650.4" r="229.5" fill="none" stroke="#c8c8c8" stroke-width="1.5" stroke-dasharray="9 3 1.5 3"/>
<polygon points="1453.2,609.3 1455.1,626.8 1454.6,642.0 1453.3,649.9 1455.9,642.3 1474.0,601.5 1502.5,556.5 1534.1,522.5 1557.4,511.7 1568.5,520.2 1568.3,539.8 1560.6,562.7 1549.2,584.2 1531.3,605.3 1509.4,623.7 1487.0,637.6 1473.4,644.6 1483.3,644.3 1526.9,641.5 1581.0,645.2 1618.4,657.1 1619.1,670.5 1604.0,681.2 1584.7,688.5 1564.7,692.7 1544.3,693.6 1521.8,690.0 1500.8,683.2 1484.6,676.1 1478.6,674.8 1490.4,692.4 1513.8,731.1 1530.1,771.9 1529.9,796.5 1518.7,804.0 1503.4,800.7 1487.8,790.7 1473.6,776.0 1461.8,757.3 1453.2,734.8 1448.1,713.1 1445.3,699.3 1441.1,699.3 1427.8,726.6 1403.5,767.0 1378.1,793.6 1361.0,796.3 1353.4,783.2 1352.3,764.3 1357.5,742.3 1367.1,720.7 1379.5,701.3 1393.8,684.7 1405.1,673.2 1407.9,667.6 1400.1,665.8 1358.5,669.7 1308.3,668.0 1275.1,657.6 1266.1,642.9 1275.2,628.8 1293.3,617.8 1318.0,611.2 1345.2,609.4 1371.1,611.4 1393.8,616.1 1430.4,634.7 1437.9,637.9 1419.4,617.9 1387.5,576.2 1363.4,531.0 1359.3,501.9 1369.7,491.4 1387.8,496.9 1407.3,512.8 1425.2,537.0 1439.4,565.3 1448.7,594.6" fill="none" stroke="#000" stroke-width="3" stroke-linejoin="round"/>
<circle cx="1453.2" cy="609.3" r="2.7" fill="#000"/>
<circle cx="1455.1" cy="626.8" r="2.7" fill="#000"/>
<circle cx="1454.6" cy="642.0" r="2.7" fill="#000"/>
<circle cx="1453.3" cy="649.9" r="2.7" fill="#000"/>
<circle cx="1455.9" cy="642.3" r="2.7" fill="#000"/>
<circle cx="1474.0" cy="601.5" r="2.7" fill="#000"/>
<circle cx="1502.5" cy="556.5" r="2.7" fill="#000"/>
<circle cx="1534.1" cy="522.5" r="2.7" fill="#000"/>
<circle cx="1557.4" cy="511.7" r="2.7" fill="#000"/>
<circle cx="1568.5" cy="520.2" r="2.7" fill="#000"/>
<circle cx="1568.3" cy="539.8" r="2.7" fill="#000"/>
<circle cx="1560.6" cy="562.7" r="2.7" fill="#000"/>
<circle cx="1549.2" cy="584.2" r="2.7" fill="#000"/>
<circle cx="1531.3" cy="605.3" r="2.7" fill="#000"/>
<circle cx="1509.4" cy="623.7" r="2.7" fill="#000"/>
<circle cx="1487.0" cy="637.6" r="2.7" fill="#000"/>
<circle cx="1473.4" cy="644.6" r="2.7" fill="#000"/>
<circle cx="1483.3" cy="644.3" r="2.7" fill="#000"/>
<circle cx="1526.9" cy="641.5" r="2.7" fill="#000"/>
<circle cx="1581.0" cy="645.2" r="2.7" fill="#000"/>
<circle cx="1618.4" cy="657.1" r="2.7" fill="#000"/>
<circle cx="1619.1" cy="670.5" r="2.7" fill="#000"/>
<circle cx="1604.0" cy="681.2" r="2.7" fill="#000"/>
<circle cx="1584.7" cy="688.5" r="2.7" fill="#000"/>
<circle cx="1564.7" cy="692.7" r="2.7" fill="#000"/>
<circle cx="1544.3" cy="693.6" r="2.7" fill="#000"/>
<circle cx="1521.8" cy="690.0" r="2.7" fill="#000"/>
<circle cx="1500.8" cy="683.2" r="2.7" fill="#000"/>
<circle cx="1484.6" cy="676.1" r="2.7" fill="#000"/>
<circle cx="1478.6" cy="674.8" r="2.7" fill="#000"/>
<circle cx="1490.4" cy="692.4" r="2.7" fill="#000"/>
<circle cx="1513.8" cy="731.1" r="2.7" fill="#000"/>
<circle cx="1530.1" cy="771.9" r="2.7" fill="#000"/>
<circle cx="1529.9" cy="796.5" r="2.7" fill="#000"/>
<circle cx="1518.7" cy="804.0" r="2.7" fill="#000"/>
<circle cx="1503.4" cy="800.7" r="2.7" fill="#000"/>
<circle cx="1487.8" cy="790.7" r="2.7" fill="#000"/>
<circle cx="1473.6" cy="776.0" r="2.7" fill="#000"/>
<circle cx="1461.8" cy="757.3" r="2.7" fill="#000"/>
<circle cx="1453.2" cy="734.8" r="2.7" fill="#000"/>
<circle cx="1448.1" cy="713.1" r="2.7" fill="#000"/>
<circle cx="1445.3" cy="699.3" r="2.7" fill="#000"/>
<circle cx="1441.1" cy="699.3" r="2.7" fill="#000"/>
<circle cx="1427.8" cy="726.6" r="2.7" fill="#000"/>
<circle cx="1403.5" cy="767.0" r="2.7" fill="#000"/>
<circle cx="1378.1" cy="793.6" r="2.7" fill="#000"/>
<circle cx="1361.0" cy="796.3" r="2.7" fill="#000"/>
<circle cx="1353.4" cy="783.2" r="2.7" fill="#000"/>
<circle cx="1352.3" cy="764.3" r="2.7" fill="#000"/>
<circle cx="1357.5" cy="742.3" r="2.7" fill="#000"/>
<circle cx="1367.1" cy="720.7" r="2.7" fill="#000"/>
<circle cx="1379.5" cy="701.3" r="2.7" fill="#000"/>
<circle cx="1393.8" cy="684.7" r="2.7" fill="#000"/>
<circle cx="1405.1" cy="673.2" r="2.7" fill="#000"/>
<circle cx="1407.9" cy="667.6" r="2.7" fill="#000"/>
<circle cx="1400.1" cy="665.8" r="2.7" fill="#000"/>
<circle cx="1358.5" cy="669.7" r="2.7" fill="#000"/>
<circle cx="1308.3" cy="668.0" r="2.7" fill="#000"/>
<circle cx="1275.1" cy="657.6" r="2.7" fill="#000"/>
<circle cx="1266.1" cy="642.9" r="2.7" fill="#000"/>
<circle cx="1275.2" cy="628.8" r="2.7" fill="#000"/>
<circle cx="1293.3" cy="617.8" r="2.7" fill="#000"/>
<circle cx="1318.0" cy="611.2" r="2.7" fill="#000"/>
<circle cx="1345.2" cy="609.4" r="2.7" fill="#000"/>
<circle cx="1371.1" cy="611.4" r="2.7" fill="#000"/>
<circle cx="1393.8" cy="616.1" r="2.7" fill="#000"/>
<circle cx="1430.4" cy="634.7" r="2.7" fill="#000"/>
<circle cx="1437.9" cy="637.9" r="2.7" fill="#000"/>
<circle cx="1419.4" cy="617.9" r="2.7" fill="#000"/>
<circle cx="1387.5" cy="576.2" r="2.7" fill="#000"/>
<circle cx="1363.4" cy="531.0" r="2.7" fill="#000"/>
<circle cx="1359.3" cy="501.9" r="2.7" fill="#000"/>
<circle cx="1369.7" cy="491.4" r="2.7" fill="#000"/>
<circle cx="1387.8" cy="496.9" r="2.7" fill="#000"/>
<circle cx="1407.3" cy="512.8" r="2.7" fill="#000"/>
<circle cx="1425.2" cy="537.0" r="2.7" fill="#000"/>
<circle cx="1439.4" cy="565.3" r="2.7" fill="#000"/>
<circle cx="1448.7" cy="594.6" r="2.7" fill="#000"/>
<path d="M139,118 L139,168.7 C140,200 190,223.5 258,223.5 C325,223.5 366,200 366.2,168.7 L366.2,118 Z" fill="#00ff00" stroke="#1a3a1a" stroke-width="0.8"/>
<path d="M141.0,176.0 C146.7,180.0 162.7,194.2 175.0,200.0 C187.3,205.8 200.5,208.6 215.0,211.0 C229.5,213.4 246.2,214.8 262.0,214.6 C277.8,214.4 296.2,212.9 310.0,210.0 C323.8,207.1 336.0,202.3 345.0,197.0 C354.0,191.7 360.8,181.2 364.0,178.0" fill="none" stroke="#1a3a1a" stroke-width="0.8"/>
<path d="M40.2,89.3 L93.6,66 L120.5,52.5 C130,48 136,46 142.6,43.9 C152,40 160,37 167.1,35.9 C176,34 182,33 189.2,32.3 L215,30 L215,70 L133,92 L49.4,126.7 Z" fill="#ff1010" stroke="#3a1a1a" stroke-width="0.7"/>
<ellipse cx="44.2" cy="108" rx="14.5" ry="19.3" transform="rotate(14 44.2 108)" fill="#ff1010" stroke="#3a1a1a" stroke-width="0.7"/>
<path d="M40,106 L120,70 M95,82 L96,100 M116,66 L118,92" stroke="#5a1010" stroke-width="0.6" fill="none"/>
<path d="M133.5,104.0 C133.3,96.2 133.6,85.2 138.0,77.0 C142.4,68.8 151.5,61.8 160.0,55.0 C168.5,48.2 177.3,40.3 189.0,36.0 C200.7,31.7 214.8,30.0 230.0,29.0 C245.2,28.0 264.1,28.5 280.0,30.0 C295.9,31.5 312.4,34.2 325.4,38.0 C338.4,41.8 348.3,47.2 358.1,52.7 C367.9,58.2 377.8,64.8 384.2,70.7 C390.6,76.6 395.2,81.1 396.5,88.0 C397.8,94.9 394.1,104.5 392.0,112.0 C389.9,119.5 388.5,127.4 384.2,132.8 C379.9,138.2 373.4,140.4 366.3,144.2 C359.2,148.0 351.2,152.6 341.7,155.7 C332.1,158.8 322.3,161.0 309.0,162.5 C295.7,164.0 277.7,164.8 262.0,164.5 C246.3,164.2 228.1,163.4 215.0,161.0 C201.9,158.6 193.3,154.0 183.3,150.0 C173.3,146.0 162.4,141.3 155.0,137.0 C147.6,132.7 142.6,129.5 139.0,124.0 C135.4,118.5 133.7,111.8 133.5,104.0Z" fill="#ff1010" stroke="#3a1a1a" stroke-width="0.7"/>
<path d="M141.5,100.0 C141.2,94.0 141.2,87.7 143.0,82.0 C144.8,76.3 147.8,70.5 152.0,66.0 C156.2,61.5 160.8,58.0 168.0,55.0 C175.2,52.0 181.3,49.7 195.0,48.0 C208.7,46.3 232.5,45.0 250.0,45.0 C267.5,45.0 285.0,46.0 300.0,48.0 C315.0,50.0 330.0,53.3 340.0,57.0 C350.0,60.7 355.3,64.5 360.0,70.0 C364.7,75.5 367.0,83.3 368.0,90.0 C369.0,96.7 368.2,103.7 366.0,110.0 C363.8,116.3 360.2,122.7 355.0,128.0 C349.8,133.3 344.2,137.9 335.0,142.0 C325.8,146.1 312.2,150.1 300.0,152.5 C287.8,154.9 275.3,156.2 262.0,156.5 C248.7,156.8 232.8,155.8 220.0,154.0 C207.2,152.2 195.3,149.5 185.0,146.0 C174.7,142.5 164.7,137.7 158.0,133.0 C151.3,128.3 147.8,123.5 145.0,118.0 C142.2,112.5 141.8,106.0 141.5,100.0Z" fill="#cd5f5f" stroke="#3a1a1a" stroke-width="0.7"/>
<path d="M146.0,112.0 C150.0,115.3 158.5,126.3 170.0,132.0 C181.5,137.7 199.7,142.8 215.0,146.0 C230.3,149.2 246.2,151.0 262.0,151.0 C277.8,151.0 295.3,149.2 310.0,146.0 C324.7,142.8 340.8,136.7 350.0,132.0 C359.2,127.3 362.5,120.3 365.0,118.0" fill="none" stroke="#5a2020" stroke-width="0.6"/>
<path d="M144.0,106.0 C148.0,109.3 156.2,120.3 168.0,126.0 C179.8,131.7 199.3,136.8 215.0,140.0 C230.7,143.2 246.2,145.0 262.0,145.0 C277.8,145.0 295.3,143.0 310.0,140.0 C324.7,137.0 340.7,131.7 350.0,127.0 C359.3,122.3 363.3,114.5 366.0,112.0" fill="none" stroke="#5a2020" stroke-width="0.6"/>
<path d="M146.0,94.0 C145.2,90.0 148.0,84.0 152.0,80.0 C156.0,76.0 162.0,72.7 170.0,70.0 C178.0,67.3 186.7,65.3 200.0,64.0 C213.3,62.7 233.3,62.0 250.0,62.0 C266.7,62.0 285.8,62.3 300.0,64.0 C314.2,65.7 326.3,68.3 335.0,72.0 C343.7,75.7 349.2,81.0 352.0,86.0 C354.8,91.0 353.7,96.4 352.0,102.0 C350.3,107.6 348.7,115.1 341.7,119.6 C334.7,124.1 323.2,126.7 310.0,129.1 C296.8,131.5 278.3,134.1 262.5,133.8 C246.7,133.5 228.8,130.5 215.0,127.5 C201.2,124.5 189.7,119.9 180.0,116.0 C170.3,112.1 162.7,107.7 157.0,104.0 C151.3,100.3 146.8,98.0 146.0,94.0Z" fill="#0000ff" stroke="#10104a" stroke-width="0.6"/>
<path d="M160.2,68 C160.5,62 163,58.5 168,57 L178,56 L178,81 L170,81.5 L169.5,104.5 L159.4,98.4 C159,88 159.3,76 160.2,68 Z" fill="#000"/>
<path d="M153.3,97.5 C165,106 185,114 213.4,117.5 L213.4,126.6 C184,123 162,114 152,103.3 Z" fill="#000"/>
<path d="M230.8,130.6 C255,129 280,126 298.5,121.2 L298.5,133 C275,134.5 250,135 230.8,132.8 Z" fill="#000"/>
<path d="M172,58 C180,54 190,51.5 200,50.5 L201,54.5 C190,56 180,59 173,63 Z" fill="#000"/>
<path d="M336.8,60 C345,62 352,65 358,69 L356,75 C350,72 343,69 336.8,67.5 Z" fill="#000"/>
<path d="M331,113 C336,113 341,115 345,119 L340,123 C337,120 334,119 331,119 Z" fill="#000"/>
<path d="M177,53 A80,33 0 0 1 337,53 L337,79 A80,33 0 0 1 177,79 Z" fill="#00ffff" stroke="#1d5050" stroke-width="0.7"/>
<ellipse cx="257" cy="53" rx="80" ry="33" fill="#00ffff" stroke="#1d5050" stroke-width="0.7"/>
<ellipse cx="257.5" cy="54" rx="76.5" ry="30.5" fill="none" stroke="#1d5050" stroke-width="0.7"/>
<ellipse cx="260" cy="64.5" rx="63" ry="18" fill="#00ffff" stroke="#1d5050" stroke-width="0.7"/>
<ellipse cx="257" cy="68.5" rx="57" ry="13.5" fill="#00ff00" stroke="#1a3a1a" stroke-width="0.6"/>
<path d="M336.8,82.9 L416.9,96.8 L407.1,142.6 L328.7,108 Z" fill="#00ffff" stroke="#1d5050" stroke-width="0.7"/>
<path d="M338,80.5 L318,78.5 C303,79 294.5,85 295.5,92 C296.5,100 306,106 320,107.5 L338,110 Z" fill="#00ffff" stroke="#1d5050" stroke-width="0.7"/>
<path d="M336.5,81.5 C331,88 330,100 333,109" fill="none" stroke="#1d5050" stroke-width="0.7"/>
<ellipse cx="414.3" cy="120" rx="13.5" ry="23.5" transform="rotate(12 414.3 120)" fill="#00ffff" stroke="#1d5050" stroke-width="0.7"/>
<path d="M70.7,353.4 L125.9,309.7  C130.2,305.8 140.0,294.6 152.0,286.0 C164.0,277.4 181.7,265.1 198.0,258.4 C214.3,251.6 232.4,246.1 250.0,245.5 C267.6,244.9 287.6,248.2 303.4,254.8 C319.2,261.4 335.0,268.6 344.7,285.2 C354.4,301.8 359.9,333.4 361.3,354.1 C362.7,374.8 360.4,393.2 353.0,409.3 C345.6,425.4 332.4,441.0 317.2,450.6 C302.0,460.2 280.4,465.8 262.0,467.2 C243.6,468.6 222.9,464.4 206.8,458.9 C190.7,453.4 174.7,446.5 165.5,434.1 C156.3,421.7 153.5,399.2 151.7,384.4 C149.8,369.5 153.2,354.6 154.4,345.0 C155.6,335.4 157.3,332.2 159.0,327.0 C160.7,321.8 163.8,315.8 164.8,313.5 C166.5,309.5 161,309 156,316 L141.2,327.3 L89.9,375.6 Z" fill="#ff1010" stroke="#3a1a1a" stroke-width="0.7"/>
<line x1="125.9" y1="309.7" x2="141.2" y2="327.3" stroke="#5a1010" stroke-width="0.7"/>
<circle cx="249" cy="359.6" r="95" fill="none" stroke="#8a1a1a" stroke-width="0.5"/>
<circle cx="249" cy="359.6" r="89" fill="#0000ff" stroke="#6a6a3a" stroke-width="1"/>
<path d="M224.6,296.4 Q247.9,274.8 283.3,283.5 Q252.1,285.2 224.6,296.4Z" fill="#000"/>
<path d="M292.7,308.1 Q327.3,309.0 332.6,350.4 Q320.7,318.0 292.7,308.1Z" fill="#000"/>
<path d="M315.0,371.5 Q329.0,380.8 320.9,395.0 Q318.0,383.2 315.0,371.5Z" fill="#000"/>
<path d="M217.5,437.3 Q247.1,448.6 276.2,423.2 Q246.9,437.4 217.5,437.3Z" fill="#000"/>
<path d="M165.8,370.4 Q169.1,409.0 205.8,413.8 Q176.9,401.0 165.8,370.4Z" fill="#000"/>
<path d="M198.7,292.9 Q170.2,310.2 181.1,350.4 Q179.8,315.8 198.7,292.9Z" fill="#000"/>
<path d="M274.6,419.8 L308.4,385.9 L370.9,458.3 L344.3,484.2 Z" fill="#00ffff" stroke="#1d5050" stroke-width="0.7"/>
<line x1="293.8" y1="437.7" x2="326.4" y2="407.9" stroke="#1d5050" stroke-width="0.7"/>
<circle cx="249.3" cy="359.6" r="61.8" fill="#00ffff" stroke="#1d5050" stroke-width="0.7"/>
<circle cx="249.3" cy="359.6" r="57.5" fill="none" stroke="#1d5050" stroke-width="0.7"/>
<circle cx="249.3" cy="359.6" r="54.5" fill="none" stroke="#1d5050" stroke-width="0.7"/>
<circle cx="249.3" cy="359.6" r="50.5" fill="#fff" stroke="#2a4a2a" stroke-width="0.8"/>
<text x="513.52" y="294.44" font-size="19.20" textLength="10.22" lengthAdjust="spacingAndGlyphs" font-family="Carlito, &quot;Liberation Sans&quot;, sans-serif" font-weight="bold" fill="#000">0</text>
<text x="503.44" y="264.49" font-size="19.20" textLength="20.44" lengthAdjust="spacingAndGlyphs" font-family="Carlito, &quot;Liberation Sans&quot;, sans-serif" font-weight="bold" fill="#000">20</text>
<text x="503.44" y="234.54" font-size="19.20" textLength="20.44" lengthAdjust="spacingAndGlyphs" font-family="Carlito, &quot;Liberation Sans&quot;, sans-serif" font-weight="bold" fill="#000">40</text>
<text x="503.44" y="204.59" font-size="19.20" textLength="20.44" lengthAdjust="spacingAndGlyphs" font-family="Carlito, &quot;Liberation Sans&quot;, sans-serif" font-weight="bold" fill="#000">60</text>
<text x="503.44" y="174.64" font-size="19.20" textLength="20.44" lengthAdjust="spacingAndGlyphs" font-family="Carlito, &quot;Liberation Sans&quot;, sans-serif" font-weight="bold" fill="#000">80</text>
<text x="493.16" y="144.69" font-size="19.20" textLength="30.66" lengthAdjust="spacingAndGlyphs" font-family="Carlito, &quot;Liberation Sans&quot;, sans-serif" font-weight="bold" fill="#000">100</text>
<text x="493.16" y="114.74" font-size="19.20" textLength="30.66" lengthAdjust="spacingAndGlyphs" font-family="Carlito, &quot;Liberation Sans&quot;, sans-serif" font-weight="bold" fill="#000">120</text>
<text x="493.16" y="84.79" font-size="19.20" textLength="30.66" lengthAdjust="spacingAndGlyphs" font-family="Carlito, &quot;Liberation Sans&quot;, sans-serif" font-weight="bold" fill="#000">140</text>
<text x="493.16" y="54.84" font-size="19.20" textLength="30.66" lengthAdjust="spacingAndGlyphs" font-family="Carlito, &quot;Liberation Sans&quot;, sans-serif" font-weight="bold" fill="#000">160</text>
<text x="493.16" y="24.89" font-size="19.20" textLength="30.66" lengthAdjust="spacingAndGlyphs" font-family="Carlito, &quot;Liberation Sans&quot;, sans-serif" font-weight="bold" fill="#000">180</text>
<text x="530.98" y="320.76" font-size="20.20" textLength="25.87" lengthAdjust="spacingAndGlyphs" font-family="Carlito, &quot;Liberation Sans&quot;, sans-serif" font-weight="bold" fill="#000">0.5</text>
<text x="573.50" y="320.76" font-size="20.20" textLength="25.87" lengthAdjust="spacingAndGlyphs" font-family="Carlito, &quot;Liberation Sans&quot;, sans-serif" font-weight="bold" fill="#000">1.0</text>
<text x="617.13" y="320.76" font-size="20.20" textLength="25.87" lengthAdjust="spacingAndGlyphs" font-family="Carlito, &quot;Liberation Sans&quot;, sans-serif" font-weight="bold" fill="#000">1.5</text>
<text x="660.56" y="320.76" font-size="20.20" textLength="25.87" lengthAdjust="spacingAndGlyphs" font-family="Carlito, &quot;Liberation Sans&quot;, sans-serif" font-weight="bold" fill="#000">2.0</text>
<text x="704.19" y="320.76" font-size="20.20" textLength="25.87" lengthAdjust="spacingAndGlyphs" font-family="Carlito, &quot;Liberation Sans&quot;, sans-serif" font-weight="bold" fill="#000">2.5</text>
<text x="747.12" y="320.76" font-size="20.20" textLength="25.87" lengthAdjust="spacingAndGlyphs" font-family="Carlito, &quot;Liberation Sans&quot;, sans-serif" font-weight="bold" fill="#000">3.0</text>
<text x="790.75" y="320.76" font-size="20.20" textLength="25.87" lengthAdjust="spacingAndGlyphs" font-family="Carlito, &quot;Liberation Sans&quot;, sans-serif" font-weight="bold" fill="#000">3.5</text>
<text x="834.08" y="320.76" font-size="20.20" textLength="25.87" lengthAdjust="spacingAndGlyphs" font-family="Carlito, &quot;Liberation Sans&quot;, sans-serif" font-weight="bold" fill="#000">4.0</text>
<text x="877.72" y="320.76" font-size="20.20" textLength="25.87" lengthAdjust="spacingAndGlyphs" font-family="Carlito, &quot;Liberation Sans&quot;, sans-serif" font-weight="bold" fill="#000">4.5</text>
<text x="920.54" y="320.76" font-size="20.20" textLength="25.87" lengthAdjust="spacingAndGlyphs" font-family="Carlito, &quot;Liberation Sans&quot;, sans-serif" font-weight="bold" fill="#000">5.0</text>
<text x="964.17" y="320.76" font-size="20.20" textLength="25.87" lengthAdjust="spacingAndGlyphs" font-family="Carlito, &quot;Liberation Sans&quot;, sans-serif" font-weight="bold" fill="#000">5.5</text>
<text x="1007.20" y="320.76" font-size="20.20" textLength="25.87" lengthAdjust="spacingAndGlyphs" font-family="Carlito, &quot;Liberation Sans&quot;, sans-serif" font-weight="bold" fill="#000">6.0</text>
<text x="1050.83" y="320.76" font-size="20.20" textLength="25.87" lengthAdjust="spacingAndGlyphs" font-family="Carlito, &quot;Liberation Sans&quot;, sans-serif" font-weight="bold" fill="#000">6.5</text>
<text x="1093.76" y="320.76" font-size="20.20" textLength="25.87" lengthAdjust="spacingAndGlyphs" font-family="Carlito, &quot;Liberation Sans&quot;, sans-serif" font-weight="bold" fill="#000">7.0</text>
<text x="748.78" y="350.50" font-size="20.31" textLength="165.45" lengthAdjust="spacingAndGlyphs" font-family="Carlito, &quot;Liberation Sans&quot;, sans-serif" font-weight="bold" fill="#000">Flow Rate (L/min)</text>
<text x="482.00" y="257.89" font-size="21.85" textLength="210.38" lengthAdjust="spacingAndGlyphs" transform="rotate(-90 482.00 257.89)" font-family="Carlito, &quot;Liberation Sans&quot;, sans-serif" font-weight="bold" fill="#000">Pressure Rise (mmHg)</text>
<text x="965.01" y="41.50" font-size="18.77" textLength="125.17" lengthAdjust="spacingAndGlyphs" font-family="Carlito, &quot;Liberation Sans&quot;, sans-serif" font-weight="bold" fill="#000">4,000 RPM - SST</text>
<text x="964.45" y="66.00" font-size="18.77" textLength="125.73" lengthAdjust="spacingAndGlyphs" font-family="Carlito, &quot;Liberation Sans&quot;, sans-serif" font-weight="bold" fill="#000">3,500 RPM - SST</text>
<text x="964.45" y="90.20" font-size="18.77" textLength="125.73" lengthAdjust="spacingAndGlyphs" font-family="Carlito, &quot;Liberation Sans&quot;, sans-serif" font-weight="bold" fill="#000">3,000 RPM - SST</text>
<text x="964.64" y="115.00" font-size="18.77" textLength="125.54" lengthAdjust="spacingAndGlyphs" font-family="Carlito, &quot;Liberation Sans&quot;, sans-serif" font-weight="bold" fill="#000">2,500 RPM - SST</text>
<text x="964.64" y="139.30" font-size="18.77" textLength="125.54" lengthAdjust="spacingAndGlyphs" font-family="Carlito, &quot;Liberation Sans&quot;, sans-serif" font-weight="bold" fill="#000">2,000 RPM - SST</text>
<text x="1212.53" y="309.82" font-size="17.60" textLength="9.28" lengthAdjust="spacingAndGlyphs" font-family="Carlito, &quot;Liberation Sans&quot;, sans-serif" font-weight="bold" fill="#000">0</text>
<text x="1203.38" y="261.22" font-size="17.60" textLength="18.56" lengthAdjust="spacingAndGlyphs" font-family="Carlito, &quot;Liberation Sans&quot;, sans-serif" font-weight="bold" fill="#000">20</text>
<text x="1203.38" y="212.62" font-size="17.60" textLength="18.56" lengthAdjust="spacingAndGlyphs" font-family="Carlito, &quot;Liberation Sans&quot;, sans-serif" font-weight="bold" fill="#000">40</text>
<text x="1203.38" y="164.02" font-size="17.60" textLength="18.56" lengthAdjust="spacingAndGlyphs" font-family="Carlito, &quot;Liberation Sans&quot;, sans-serif" font-weight="bold" fill="#000">60</text>
<text x="1203.38" y="115.42" font-size="17.60" textLength="18.56" lengthAdjust="spacingAndGlyphs" font-family="Carlito, &quot;Liberation Sans&quot;, sans-serif" font-weight="bold" fill="#000">80</text>
<text x="1194.04" y="66.82" font-size="17.60" textLength="27.83" lengthAdjust="spacingAndGlyphs" font-family="Carlito, &quot;Liberation Sans&quot;, sans-serif" font-weight="bold" fill="#000">100</text>
<text x="1194.04" y="18.22" font-size="17.60" textLength="27.83" lengthAdjust="spacingAndGlyphs" font-family="Carlito, &quot;Liberation Sans&quot;, sans-serif" font-weight="bold" fill="#000">120</text>
<text x="1228.59" y="335.15" font-size="17.40" textLength="23.18" lengthAdjust="spacingAndGlyphs" font-family="Carlito, &quot;Liberation Sans&quot;, sans-serif" font-weight="bold" fill="#000">0.5</text>
<text x="1274.53" y="335.15" font-size="17.40" textLength="23.18" lengthAdjust="spacingAndGlyphs" font-family="Carlito, &quot;Liberation Sans&quot;, sans-serif" font-weight="bold" fill="#000">1.0</text>
<text x="1321.46" y="335.15" font-size="17.40" textLength="23.18" lengthAdjust="spacingAndGlyphs" font-family="Carlito, &quot;Liberation Sans&quot;, sans-serif" font-weight="bold" fill="#000">1.5</text>
<text x="1368.21" y="335.15" font-size="17.40" textLength="23.18" lengthAdjust="spacingAndGlyphs" font-family="Carlito, &quot;Liberation Sans&quot;, sans-serif" font-weight="bold" fill="#000">2.0</text>
<text x="1415.14" y="335.15" font-size="17.40" textLength="23.18" lengthAdjust="spacingAndGlyphs" font-family="Carlito, &quot;Liberation Sans&quot;, sans-serif" font-weight="bold" fill="#000">2.5</text>
<text x="1461.44" y="335.15" font-size="17.40" textLength="23.18" lengthAdjust="spacingAndGlyphs" font-family="Carlito, &quot;Liberation Sans&quot;, sans-serif" font-weight="bold" fill="#000">3.0</text>
<text x="1508.37" y="335.15" font-size="17.40" textLength="23.18" lengthAdjust="spacingAndGlyphs" font-family="Carlito, &quot;Liberation Sans&quot;, sans-serif" font-weight="bold" fill="#000">3.5</text>
<text x="1555.03" y="335.15" font-size="17.40" textLength="23.18" lengthAdjust="spacingAndGlyphs" font-family="Carlito, &quot;Liberation Sans&quot;, sans-serif" font-weight="bold" fill="#000">4.0</text>
<text x="1601.96" y="335.15" font-size="17.40" textLength="23.18" lengthAdjust="spacingAndGlyphs" font-family="Carlito, &quot;Liberation Sans&quot;, sans-serif" font-weight="bold" fill="#000">4.5</text>
<text x="1648.17" y="335.15" font-size="17.40" textLength="23.18" lengthAdjust="spacingAndGlyphs" font-family="Carlito, &quot;Liberation Sans&quot;, sans-serif" font-weight="bold" fill="#000">5.0</text>
<text x="1695.10" y="335.15" font-size="17.40" textLength="23.18" lengthAdjust="spacingAndGlyphs" font-family="Carlito, &quot;Liberation Sans&quot;, sans-serif" font-weight="bold" fill="#000">5.5</text>
<text x="1741.49" y="335.15" font-size="17.40" textLength="23.18" lengthAdjust="spacingAndGlyphs" font-family="Carlito, &quot;Liberation Sans&quot;, sans-serif" font-weight="bold" fill="#000">6.0</text>
<text x="1427.08" y="369.00" font-size="18.15" textLength="150.62" lengthAdjust="spacingAndGlyphs" font-family="Carlito, &quot;Liberation Sans&quot;, sans-serif" font-weight="bold" fill="#000">Flow Rate (L/min)</text>
<text x="1182.90" y="254.17" font-size="20.92" textLength="191.53" lengthAdjust="spacingAndGlyphs" transform="rotate(-90 1182.90 254.17)" font-family="Carlito, &quot;Liberation Sans&quot;, sans-serif" font-weight="bold" fill="#000">Pressure Rise (mmHg)</text>
<text x="1624.01" y="37.30" font-size="17.23" textLength="115.26" lengthAdjust="spacingAndGlyphs" font-family="Carlito, &quot;Liberation Sans&quot;, sans-serif" font-weight="bold" fill="#000">3,500 RPM - SST</text>
<text x="1624.01" y="67.90" font-size="17.23" textLength="115.26" lengthAdjust="spacingAndGlyphs" font-family="Carlito, &quot;Liberation Sans&quot;, sans-serif" font-weight="bold" fill="#000">3,000 RPM - SST</text>
<text x="1624.00" y="98.00" font-size="17.23" textLength="113.09" lengthAdjust="spacingAndGlyphs" font-family="Carlito, &quot;Liberation Sans&quot;, sans-serif" font-weight="bold" fill="#000">3,500 RPM - k-e</text>
<text x="1624.00" y="128.20" font-size="17.23" textLength="113.09" lengthAdjust="spacingAndGlyphs" font-family="Carlito, &quot;Liberation Sans&quot;, sans-serif" font-weight="bold" fill="#000">3,000 RPM - k-e</text>
<text x="76.22" y="852.64" font-size="18.60" textLength="9.80" lengthAdjust="spacingAndGlyphs" font-family="Carlito, &quot;Liberation Sans&quot;, sans-serif" font-weight="bold" fill="#000">0</text>
<text x="66.55" y="809.28" font-size="18.60" textLength="19.61" lengthAdjust="spacingAndGlyphs" font-family="Carlito, &quot;Liberation Sans&quot;, sans-serif" font-weight="bold" fill="#000">20</text>
<text x="66.55" y="765.92" font-size="18.60" textLength="19.61" lengthAdjust="spacingAndGlyphs" font-family="Carlito, &quot;Liberation Sans&quot;, sans-serif" font-weight="bold" fill="#000">40</text>
<text x="66.55" y="722.56" font-size="18.60" textLength="19.61" lengthAdjust="spacingAndGlyphs" font-family="Carlito, &quot;Liberation Sans&quot;, sans-serif" font-weight="bold" fill="#000">60</text>
<text x="66.55" y="679.21" font-size="18.60" textLength="19.61" lengthAdjust="spacingAndGlyphs" font-family="Carlito, &quot;Liberation Sans&quot;, sans-serif" font-weight="bold" fill="#000">80</text>
<text x="56.68" y="635.84" font-size="18.60" textLength="29.41" lengthAdjust="spacingAndGlyphs" font-family="Carlito, &quot;Liberation Sans&quot;, sans-serif" font-weight="bold" fill="#000">100</text>
<text x="56.68" y="592.49" font-size="18.60" textLength="29.41" lengthAdjust="spacingAndGlyphs" font-family="Carlito, &quot;Liberation Sans&quot;, sans-serif" font-weight="bold" fill="#000">120</text>
<text x="56.68" y="549.12" font-size="18.60" textLength="29.41" lengthAdjust="spacingAndGlyphs" font-family="Carlito, &quot;Liberation Sans&quot;, sans-serif" font-weight="bold" fill="#000">140</text>
<text x="92.28" y="877.61" font-size="18.80" textLength="25.04" lengthAdjust="spacingAndGlyphs" font-family="Carlito, &quot;Liberation Sans&quot;, sans-serif" font-weight="bold" fill="#000">0.5</text>
<text x="140.00" y="877.61" font-size="18.80" textLength="25.04" lengthAdjust="spacingAndGlyphs" font-family="Carlito, &quot;Liberation Sans&quot;, sans-serif" font-weight="bold" fill="#000">1.0</text>
<text x="188.79" y="877.61" font-size="18.80" textLength="25.04" lengthAdjust="spacingAndGlyphs" font-family="Carlito, &quot;Liberation Sans&quot;, sans-serif" font-weight="bold" fill="#000">1.5</text>
<text x="237.39" y="877.61" font-size="18.80" textLength="25.04" lengthAdjust="spacingAndGlyphs" font-family="Carlito, &quot;Liberation Sans&quot;, sans-serif" font-weight="bold" fill="#000">2.0</text>
<text x="286.18" y="877.61" font-size="18.80" textLength="25.04" lengthAdjust="spacingAndGlyphs" font-family="Carlito, &quot;Liberation Sans&quot;, sans-serif" font-weight="bold" fill="#000">2.5</text>
<text x="334.29" y="877.61" font-size="18.80" textLength="25.04" lengthAdjust="spacingAndGlyphs" font-family="Carlito, &quot;Liberation Sans&quot;, sans-serif" font-weight="bold" fill="#000">3.0</text>
<text x="383.08" y="877.61" font-size="18.80" textLength="25.04" lengthAdjust="spacingAndGlyphs" font-family="Carlito, &quot;Liberation Sans&quot;, sans-serif" font-weight="bold" fill="#000">3.5</text>
<text x="431.58" y="877.61" font-size="18.80" textLength="25.04" lengthAdjust="spacingAndGlyphs" font-family="Carlito, &quot;Liberation Sans&quot;, sans-serif" font-weight="bold" fill="#000">4.0</text>
<text x="480.38" y="877.61" font-size="18.80" textLength="25.04" lengthAdjust="spacingAndGlyphs" font-family="Carlito, &quot;Liberation Sans&quot;, sans-serif" font-weight="bold" fill="#000">4.5</text>
<text x="528.39" y="877.61" font-size="18.80" textLength="25.04" lengthAdjust="spacingAndGlyphs" font-family="Carlito, &quot;Liberation Sans&quot;, sans-serif" font-weight="bold" fill="#000">5.0</text>
<text x="577.18" y="877.61" font-size="18.80" textLength="25.04" lengthAdjust="spacingAndGlyphs" font-family="Carlito, &quot;Liberation Sans&quot;, sans-serif" font-weight="bold" fill="#000">5.5</text>
<text x="625.39" y="877.61" font-size="18.80" textLength="25.04" lengthAdjust="spacingAndGlyphs" font-family="Carlito, &quot;Liberation Sans&quot;, sans-serif" font-weight="bold" fill="#000">6.0</text>
<text x="298.74" y="913.30" font-size="19.38" textLength="157.43" lengthAdjust="spacingAndGlyphs" font-family="Carlito, &quot;Liberation Sans&quot;, sans-serif" font-weight="bold" fill="#000">Flow Rate (L/min)</text>
<text x="45.60" y="793.72" font-size="22.15" textLength="199.24" lengthAdjust="spacingAndGlyphs" transform="rotate(-90 45.60 793.72)" font-family="Carlito, &quot;Liberation Sans&quot;, sans-serif" font-weight="bold" fill="#000">Pressure Rise (mmHg)</text>
<text x="486.81" y="578.20" font-size="18.46" textLength="132.73" lengthAdjust="spacingAndGlyphs" font-family="Carlito, &quot;Liberation Sans&quot;, sans-serif" font-weight="bold" fill="#000">3,500 RPM - Exp</text>
<text x="487.72" y="611.90" font-size="18.46" textLength="125.34" lengthAdjust="spacingAndGlyphs" font-family="Carlito, &quot;Liberation Sans&quot;, sans-serif" font-weight="bold" fill="#000">3,500 RPM- SST</text>
<text x="487.71" y="645.30" font-size="18.46" textLength="127.86" lengthAdjust="spacingAndGlyphs" font-family="Carlito, &quot;Liberation Sans&quot;, sans-serif" font-weight="bold" fill="#000">3,500 RPM - k-e</text>
<text x="908.59" y="428.46" font-size="16.80" textLength="9.37" lengthAdjust="spacingAndGlyphs" stroke="#262626" stroke-width="0.3" font-family="Carlito, &quot;Liberation Sans&quot;, sans-serif" font-weight="normal" fill="#262626">0</text>
<text x="956.61" y="445.46" font-size="16.80" textLength="18.73" lengthAdjust="spacingAndGlyphs" stroke="#262626" stroke-width="0.3" font-family="Carlito, &quot;Liberation Sans&quot;, sans-serif" font-weight="normal" fill="#262626">12</text>
<text x="998.29" y="458.86" font-size="16.80" textLength="18.73" lengthAdjust="spacingAndGlyphs" stroke="#262626" stroke-width="0.3" font-family="Carlito, &quot;Liberation Sans&quot;, sans-serif" font-weight="normal" fill="#262626">24</text>
<text x="1036.68" y="480.76" font-size="16.80" textLength="18.73" lengthAdjust="spacingAndGlyphs" stroke="#262626" stroke-width="0.3" font-family="Carlito, &quot;Liberation Sans&quot;, sans-serif" font-weight="normal" fill="#262626">36</text>
<text x="1070.05" y="510.16" font-size="16.80" textLength="18.73" lengthAdjust="spacingAndGlyphs" stroke="#262626" stroke-width="0.3" font-family="Carlito, &quot;Liberation Sans&quot;, sans-serif" font-weight="normal" fill="#262626">48</text>
<text x="1095.38" y="546.26" font-size="16.80" textLength="18.73" lengthAdjust="spacingAndGlyphs" stroke="#262626" stroke-width="0.3" font-family="Carlito, &quot;Liberation Sans&quot;, sans-serif" font-weight="normal" fill="#262626">60</text>
<text x="1113.38" y="586.46" font-size="16.80" textLength="18.73" lengthAdjust="spacingAndGlyphs" stroke="#262626" stroke-width="0.3" font-family="Carlito, &quot;Liberation Sans&quot;, sans-serif" font-weight="normal" fill="#262626">72</text>
<text x="1122.09" y="628.26" font-size="16.80" textLength="18.73" lengthAdjust="spacingAndGlyphs" stroke="#262626" stroke-width="0.3" font-family="Carlito, &quot;Liberation Sans&quot;, sans-serif" font-weight="normal" fill="#262626">84</text>
<text x="1122.09" y="673.76" font-size="16.80" textLength="18.73" lengthAdjust="spacingAndGlyphs" stroke="#262626" stroke-width="0.3" font-family="Carlito, &quot;Liberation Sans&quot;, sans-serif" font-weight="normal" fill="#262626">96</text>
<text x="1112.79" y="715.96" font-size="16.80" textLength="28.10" lengthAdjust="spacingAndGlyphs" stroke="#262626" stroke-width="0.3" font-family="Carlito, &quot;Liberation Sans&quot;, sans-serif" font-weight="normal" fill="#262626">108</text>
<text x="1094.80" y="756.16" font-size="16.80" textLength="28.10" lengthAdjust="spacingAndGlyphs" stroke="#262626" stroke-width="0.3" font-family="Carlito, &quot;Liberation Sans&quot;, sans-serif" font-weight="normal" fill="#262626">120</text>
<text x="1069.09" y="791.96" font-size="16.80" textLength="28.10" lengthAdjust="spacingAndGlyphs" stroke="#262626" stroke-width="0.3" font-family="Carlito, &quot;Liberation Sans&quot;, sans-serif" font-weight="normal" fill="#262626">132</text>
<text x="1036.31" y="821.26" font-size="16.80" textLength="28.10" lengthAdjust="spacingAndGlyphs" stroke="#262626" stroke-width="0.3" font-family="Carlito, &quot;Liberation Sans&quot;, sans-serif" font-weight="normal" fill="#262626">144</text>
<text x="998.29" y="842.96" font-size="16.80" textLength="28.10" lengthAdjust="spacingAndGlyphs" stroke="#262626" stroke-width="0.3" font-family="Carlito, &quot;Liberation Sans&quot;, sans-serif" font-weight="normal" fill="#262626">156</text>
<text x="956.49" y="856.76" font-size="16.80" textLength="28.10" lengthAdjust="spacingAndGlyphs" stroke="#262626" stroke-width="0.3" font-family="Carlito, &quot;Liberation Sans&quot;, sans-serif" font-weight="normal" fill="#262626">168</text>
<text x="898.80" y="872.96" font-size="16.80" textLength="28.10" lengthAdjust="spacingAndGlyphs" stroke="#262626" stroke-width="0.3" font-family="Carlito, &quot;Liberation Sans&quot;, sans-serif" font-weight="normal" fill="#262626">180</text>
<text x="841.09" y="857.26" font-size="16.80" textLength="28.10" lengthAdjust="spacingAndGlyphs" stroke="#262626" stroke-width="0.3" font-family="Carlito, &quot;Liberation Sans&quot;, sans-serif" font-weight="normal" fill="#262626">192</text>
<text x="799.07" y="843.66" font-size="16.80" textLength="28.10" lengthAdjust="spacingAndGlyphs" stroke="#262626" stroke-width="0.3" font-family="Carlito, &quot;Liberation Sans&quot;, sans-serif" font-weight="normal" fill="#262626">204</text>
<text x="761.46" y="820.76" font-size="16.80" textLength="28.10" lengthAdjust="spacingAndGlyphs" stroke="#262626" stroke-width="0.3" font-family="Carlito, &quot;Liberation Sans&quot;, sans-serif" font-weight="normal" fill="#262626">216</text>
<text x="728.46" y="792.16" font-size="16.80" textLength="28.10" lengthAdjust="spacingAndGlyphs" stroke="#262626" stroke-width="0.3" font-family="Carlito, &quot;Liberation Sans&quot;, sans-serif" font-weight="normal" fill="#262626">228</text>
<text x="702.66" y="756.46" font-size="16.80" textLength="28.10" lengthAdjust="spacingAndGlyphs" stroke="#262626" stroke-width="0.3" font-family="Carlito, &quot;Liberation Sans&quot;, sans-serif" font-weight="normal" fill="#262626">240</text>
<text x="684.56" y="716.26" font-size="16.80" textLength="28.10" lengthAdjust="spacingAndGlyphs" stroke="#262626" stroke-width="0.3" font-family="Carlito, &quot;Liberation Sans&quot;, sans-serif" font-weight="normal" fill="#262626">252</text>
<text x="674.27" y="673.16" font-size="16.80" textLength="28.10" lengthAdjust="spacingAndGlyphs" stroke="#262626" stroke-width="0.3" font-family="Carlito, &quot;Liberation Sans&quot;, sans-serif" font-weight="normal" fill="#262626">264</text>
<text x="675.26" y="629.06" font-size="16.80" textLength="28.10" lengthAdjust="spacingAndGlyphs" stroke="#262626" stroke-width="0.3" font-family="Carlito, &quot;Liberation Sans&quot;, sans-serif" font-weight="normal" fill="#262626">276</text>
<text x="684.36" y="585.96" font-size="16.80" textLength="28.10" lengthAdjust="spacingAndGlyphs" stroke="#262626" stroke-width="0.3" font-family="Carlito, &quot;Liberation Sans&quot;, sans-serif" font-weight="normal" fill="#262626">288</text>
<text x="702.57" y="545.96" font-size="16.80" textLength="28.10" lengthAdjust="spacingAndGlyphs" stroke="#262626" stroke-width="0.3" font-family="Carlito, &quot;Liberation Sans&quot;, sans-serif" font-weight="normal" fill="#262626">300</text>
<text x="727.96" y="510.06" font-size="16.80" textLength="28.10" lengthAdjust="spacingAndGlyphs" stroke="#262626" stroke-width="0.3" font-family="Carlito, &quot;Liberation Sans&quot;, sans-serif" font-weight="normal" fill="#262626">312</text>
<text x="760.38" y="480.06" font-size="16.80" textLength="28.10" lengthAdjust="spacingAndGlyphs" stroke="#262626" stroke-width="0.3" font-family="Carlito, &quot;Liberation Sans&quot;, sans-serif" font-weight="normal" fill="#262626">324</text>
<text x="799.46" y="458.36" font-size="16.80" textLength="28.10" lengthAdjust="spacingAndGlyphs" stroke="#262626" stroke-width="0.3" font-family="Carlito, &quot;Liberation Sans&quot;, sans-serif" font-weight="normal" fill="#262626">336</text>
<text x="841.16" y="444.46" font-size="16.80" textLength="28.10" lengthAdjust="spacingAndGlyphs" stroke="#262626" stroke-width="0.3" font-family="Carlito, &quot;Liberation Sans&quot;, sans-serif" font-weight="normal" fill="#262626">348</text>
<text x="922.97" y="428.18" font-size="19.00" textLength="6.44" lengthAdjust="spacingAndGlyphs" font-family="Carlito, &quot;Liberation Sans&quot;, sans-serif" font-weight="normal" fill="#262626">°</text>
<text x="870.49" y="468.00" font-size="19.85" textLength="102.70" lengthAdjust="spacingAndGlyphs" font-family="Carlito, &quot;Liberation Sans&quot;, sans-serif" font-weight="bold" fill="#000">100 mmHg</text>
<text x="870.58" y="633.60" font-size="20.62" textLength="91.39" lengthAdjust="spacingAndGlyphs" font-family="Carlito, &quot;Liberation Sans&quot;, sans-serif" font-weight="bold" fill="#000">75 mmHg</text>
<text x="932.58" y="501.20" font-size="24.62" textLength="13.18" lengthAdjust="spacingAndGlyphs" font-family="Carlito, &quot;Liberation Sans&quot;, sans-serif" font-weight="bold" fill="#1a6fc0">1</text>
<text x="1051.58" y="600.90" font-size="24.00" textLength="13.82" lengthAdjust="spacingAndGlyphs" font-family="Carlito, &quot;Liberation Sans&quot;, sans-serif" font-weight="bold" fill="#1a6fc0">2</text>
<text x="1027.31" y="753.90" font-size="23.69" textLength="13.82" lengthAdjust="spacingAndGlyphs" font-family="Carlito, &quot;Liberation Sans&quot;, sans-serif" font-weight="bold" fill="#1a6fc0">3</text>
<text x="874.34" y="805.90" font-size="22.46" textLength="13.20" lengthAdjust="spacingAndGlyphs" font-family="Carlito, &quot;Liberation Sans&quot;, sans-serif" font-weight="bold" fill="#1a6fc0">4</text>
<text x="758.00" y="703.20" font-size="22.92" textLength="13.56" lengthAdjust="spacingAndGlyphs" font-family="Carlito, &quot;Liberation Sans&quot;, sans-serif" font-weight="bold" fill="#1a6fc0">5</text>
<text x="786.38" y="555.70" font-size="21.54" textLength="13.85" lengthAdjust="spacingAndGlyphs" font-family="Carlito, &quot;Liberation Sans&quot;, sans-serif" font-weight="bold" fill="#1a6fc0">6</text>
<text x="761.39" y="932.00" font-size="25.38" textLength="268.33" lengthAdjust="spacingAndGlyphs" font-family="Carlito, &quot;Liberation Sans&quot;, sans-serif" font-weight="bold" fill="#3a3a3a">Peaks at 1-6: 95.4mmHg</text>
<text x="1442.99" y="404.68" font-size="15.00" textLength="20.51" lengthAdjust="spacingAndGlyphs" stroke="#262626" stroke-width="0.45" font-family="Carlito, &quot;Liberation Sans&quot;, sans-serif" font-weight="normal" fill="#262626">0.9</text>
<text x="1491.81" y="418.88" font-size="15.00" textLength="20.51" lengthAdjust="spacingAndGlyphs" stroke="#262626" stroke-width="0.45" font-family="Carlito, &quot;Liberation Sans&quot;, sans-serif" font-weight="normal" fill="#262626">8.6</text>
<text x="1528.90" y="427.98" font-size="15.00" textLength="28.72" lengthAdjust="spacingAndGlyphs" stroke="#262626" stroke-width="0.45" font-family="Carlito, &quot;Liberation Sans&quot;, sans-serif" font-weight="normal" fill="#262626">18.0</text>
<text x="1564.83" y="443.27" font-size="15.00" textLength="28.72" lengthAdjust="spacingAndGlyphs" stroke="#262626" stroke-width="0.45" font-family="Carlito, &quot;Liberation Sans&quot;, sans-serif" font-weight="normal" fill="#262626">27.5</text>
<text x="1596.90" y="463.98" font-size="15.00" textLength="28.72" lengthAdjust="spacingAndGlyphs" stroke="#262626" stroke-width="0.45" font-family="Carlito, &quot;Liberation Sans&quot;, sans-serif" font-weight="normal" fill="#262626">36.9</text>
<text x="1625.68" y="489.18" font-size="15.00" textLength="28.72" lengthAdjust="spacingAndGlyphs" stroke="#262626" stroke-width="0.45" font-family="Carlito, &quot;Liberation Sans&quot;, sans-serif" font-weight="normal" fill="#262626">46.4</text>
<text x="1650.08" y="518.88" font-size="15.00" textLength="28.72" lengthAdjust="spacingAndGlyphs" stroke="#262626" stroke-width="0.45" font-family="Carlito, &quot;Liberation Sans&quot;, sans-serif" font-weight="normal" fill="#262626">55.8</text>
<text x="1669.66" y="552.27" font-size="15.00" textLength="28.72" lengthAdjust="spacingAndGlyphs" stroke="#262626" stroke-width="0.45" font-family="Carlito, &quot;Liberation Sans&quot;, sans-serif" font-weight="normal" fill="#262626">65.3</text>
<text x="1683.50" y="589.48" font-size="15.00" textLength="28.72" lengthAdjust="spacingAndGlyphs" stroke="#262626" stroke-width="0.45" font-family="Carlito, &quot;Liberation Sans&quot;, sans-serif" font-weight="normal" fill="#262626">74.7</text>
<text x="1690.96" y="626.67" font-size="15.00" textLength="28.72" lengthAdjust="spacingAndGlyphs" stroke="#262626" stroke-width="0.45" font-family="Carlito, &quot;Liberation Sans&quot;, sans-serif" font-weight="normal" fill="#262626">84.2</text>
<text x="1692.32" y="664.88" font-size="15.00" textLength="28.72" lengthAdjust="spacingAndGlyphs" stroke="#262626" stroke-width="0.45" font-family="Carlito, &quot;Liberation Sans&quot;, sans-serif" font-weight="normal" fill="#262626">93.6</text>
<text x="1687.81" y="702.77" font-size="15.00" textLength="36.93" lengthAdjust="spacingAndGlyphs" stroke="#262626" stroke-width="0.45" font-family="Carlito, &quot;Liberation Sans&quot;, sans-serif" font-weight="normal" fill="#262626">103.1</text>
<text x="1676.99" y="739.98" font-size="15.00" textLength="36.93" lengthAdjust="spacingAndGlyphs" stroke="#262626" stroke-width="0.45" font-family="Carlito, &quot;Liberation Sans&quot;, sans-serif" font-weight="normal" fill="#262626">112.5</text>
<text x="1660.75" y="774.67" font-size="15.00" textLength="36.93" lengthAdjust="spacingAndGlyphs" stroke="#262626" stroke-width="0.45" font-family="Carlito, &quot;Liberation Sans&quot;, sans-serif" font-weight="normal" fill="#262626">122.0</text>
<text x="1638.46" y="806.38" font-size="15.00" textLength="36.93" lengthAdjust="spacingAndGlyphs" stroke="#262626" stroke-width="0.45" font-family="Carlito, &quot;Liberation Sans&quot;, sans-serif" font-weight="normal" fill="#262626">131.4</text>
<text x="1612.05" y="834.38" font-size="15.00" textLength="36.93" lengthAdjust="spacingAndGlyphs" stroke="#262626" stroke-width="0.45" font-family="Carlito, &quot;Liberation Sans&quot;, sans-serif" font-weight="normal" fill="#262626">140.9</text>
<text x="1581.43" y="857.27" font-size="15.00" textLength="36.93" lengthAdjust="spacingAndGlyphs" stroke="#262626" stroke-width="0.45" font-family="Carlito, &quot;Liberation Sans&quot;, sans-serif" font-weight="normal" fill="#262626">150.3</text>
<text x="1547.23" y="875.08" font-size="15.00" textLength="36.93" lengthAdjust="spacingAndGlyphs" stroke="#262626" stroke-width="0.45" font-family="Carlito, &quot;Liberation Sans&quot;, sans-serif" font-weight="normal" fill="#262626">159.8</text>
<text x="1510.83" y="887.27" font-size="15.00" textLength="36.93" lengthAdjust="spacingAndGlyphs" stroke="#262626" stroke-width="0.45" font-family="Carlito, &quot;Liberation Sans&quot;, sans-serif" font-weight="normal" fill="#262626">169.2</text>
<text x="1472.35" y="892.67" font-size="15.00" textLength="36.93" lengthAdjust="spacingAndGlyphs" stroke="#262626" stroke-width="0.45" font-family="Carlito, &quot;Liberation Sans&quot;, sans-serif" font-weight="normal" fill="#262626">178.7</text>
<text x="1396.71" y="892.58" font-size="15.00" textLength="36.93" lengthAdjust="spacingAndGlyphs" stroke="#262626" stroke-width="0.45" font-family="Carlito, &quot;Liberation Sans&quot;, sans-serif" font-weight="normal" fill="#262626">188.1</text>
<text x="1359.13" y="887.27" font-size="15.00" textLength="36.93" lengthAdjust="spacingAndGlyphs" stroke="#262626" stroke-width="0.45" font-family="Carlito, &quot;Liberation Sans&quot;, sans-serif" font-weight="normal" fill="#262626">197.6</text>
<text x="1322.85" y="875.48" font-size="15.00" textLength="36.93" lengthAdjust="spacingAndGlyphs" stroke="#262626" stroke-width="0.45" font-family="Carlito, &quot;Liberation Sans&quot;, sans-serif" font-weight="normal" fill="#262626">207.0</text>
<text x="1289.09" y="856.77" font-size="15.00" textLength="36.93" lengthAdjust="spacingAndGlyphs" stroke="#262626" stroke-width="0.45" font-family="Carlito, &quot;Liberation Sans&quot;, sans-serif" font-weight="normal" fill="#262626">216.5</text>
<text x="1257.85" y="833.77" font-size="15.00" textLength="36.93" lengthAdjust="spacingAndGlyphs" stroke="#262626" stroke-width="0.45" font-family="Carlito, &quot;Liberation Sans&quot;, sans-serif" font-weight="normal" fill="#262626">225.9</text>
<text x="1231.07" y="806.48" font-size="15.00" textLength="36.93" lengthAdjust="spacingAndGlyphs" stroke="#262626" stroke-width="0.45" font-family="Carlito, &quot;Liberation Sans&quot;, sans-serif" font-weight="normal" fill="#262626">235.4</text>
<text x="1209.53" y="774.48" font-size="15.00" textLength="36.93" lengthAdjust="spacingAndGlyphs" stroke="#262626" stroke-width="0.45" font-family="Carlito, &quot;Liberation Sans&quot;, sans-serif" font-weight="normal" fill="#262626">244.8</text>
<text x="1192.83" y="739.38" font-size="15.00" textLength="36.93" lengthAdjust="spacingAndGlyphs" stroke="#262626" stroke-width="0.45" font-family="Carlito, &quot;Liberation Sans&quot;, sans-serif" font-weight="normal" fill="#262626">254.3</text>
<text x="1182.15" y="702.58" font-size="15.00" textLength="36.93" lengthAdjust="spacingAndGlyphs" stroke="#262626" stroke-width="0.45" font-family="Carlito, &quot;Liberation Sans&quot;, sans-serif" font-weight="normal" fill="#262626">263.7</text>
<text x="1177.53" y="664.67" font-size="15.00" textLength="36.93" lengthAdjust="spacingAndGlyphs" stroke="#262626" stroke-width="0.45" font-family="Carlito, &quot;Liberation Sans&quot;, sans-serif" font-weight="normal" fill="#262626">273.2</text>
<text x="1179.03" y="626.67" font-size="15.00" textLength="36.93" lengthAdjust="spacingAndGlyphs" stroke="#262626" stroke-width="0.45" font-family="Carlito, &quot;Liberation Sans&quot;, sans-serif" font-weight="normal" fill="#262626">282.6</text>
<text x="1186.61" y="588.88" font-size="15.00" textLength="36.93" lengthAdjust="spacingAndGlyphs" stroke="#262626" stroke-width="0.45" font-family="Carlito, &quot;Liberation Sans&quot;, sans-serif" font-weight="normal" fill="#262626">292.1</text>
<text x="1200.31" y="552.48" font-size="15.00" textLength="36.93" lengthAdjust="spacingAndGlyphs" stroke="#262626" stroke-width="0.45" font-family="Carlito, &quot;Liberation Sans&quot;, sans-serif" font-weight="normal" fill="#262626">301.5</text>
<text x="1219.57" y="519.38" font-size="15.00" textLength="36.93" lengthAdjust="spacingAndGlyphs" stroke="#262626" stroke-width="0.45" font-family="Carlito, &quot;Liberation Sans&quot;, sans-serif" font-weight="normal" fill="#262626">311.0</text>
<text x="1243.99" y="489.38" font-size="15.00" textLength="36.93" lengthAdjust="spacingAndGlyphs" stroke="#262626" stroke-width="0.45" font-family="Carlito, &quot;Liberation Sans&quot;, sans-serif" font-weight="normal" fill="#262626">320.4</text>
<text x="1272.87" y="463.57" font-size="15.00" textLength="36.93" lengthAdjust="spacingAndGlyphs" stroke="#262626" stroke-width="0.45" font-family="Carlito, &quot;Liberation Sans&quot;, sans-serif" font-weight="normal" fill="#262626">329.9</text>
<text x="1305.15" y="443.07" font-size="15.00" textLength="36.93" lengthAdjust="spacingAndGlyphs" stroke="#262626" stroke-width="0.45" font-family="Carlito, &quot;Liberation Sans&quot;, sans-serif" font-weight="normal" fill="#262626">339.3</text>
<text x="1340.65" y="427.68" font-size="15.00" textLength="36.93" lengthAdjust="spacingAndGlyphs" stroke="#262626" stroke-width="0.45" font-family="Carlito, &quot;Liberation Sans&quot;, sans-serif" font-weight="normal" fill="#262626">348.8</text>
<text x="1377.85" y="418.88" font-size="15.00" textLength="36.93" lengthAdjust="spacingAndGlyphs" stroke="#262626" stroke-width="0.45" font-family="Carlito, &quot;Liberation Sans&quot;, sans-serif" font-weight="normal" fill="#262626">358.2</text>
<text x="1478.17" y="406.18" font-size="19.00" textLength="6.44" lengthAdjust="spacingAndGlyphs" font-family="Carlito, &quot;Liberation Sans&quot;, sans-serif" font-weight="normal" fill="#262626">°</text>
<text x="1417.18" y="449.40" font-size="20.46" textLength="103.41" lengthAdjust="spacingAndGlyphs" font-family="Carlito, &quot;Liberation Sans&quot;, sans-serif" font-weight="bold" fill="#000">100 mmHg</text>
<text x="1418.39" y="667.20" font-size="20.92" textLength="90.58" lengthAdjust="spacingAndGlyphs" font-family="Carlito, &quot;Liberation Sans&quot;, sans-serif" font-weight="bold" fill="#000">75 mmHg</text>
<text x="1563.63" y="509.50" font-size="23.54" textLength="12.80" lengthAdjust="spacingAndGlyphs" font-family="Carlito, &quot;Liberation Sans&quot;, sans-serif" font-weight="bold" fill="#1a6fc0">1</text>
<text x="1624.70" y="673.60" font-size="23.08" textLength="13.48" lengthAdjust="spacingAndGlyphs" font-family="Carlito, &quot;Liberation Sans&quot;, sans-serif" font-weight="bold" fill="#1a6fc0">2</text>
<text x="1521.36" y="823.30" font-size="22.62" textLength="13.13" lengthAdjust="spacingAndGlyphs" font-family="Carlito, &quot;Liberation Sans&quot;, sans-serif" font-weight="bold" fill="#1a6fc0">3</text>
<text x="1351.24" y="816.00" font-size="23.85" textLength="13.20" lengthAdjust="spacingAndGlyphs" font-family="Carlito, &quot;Liberation Sans&quot;, sans-serif" font-weight="bold" fill="#1a6fc0">4</text>
<text x="1244.97" y="647.50" font-size="24.62" textLength="14.03" lengthAdjust="spacingAndGlyphs" font-family="Carlito, &quot;Liberation Sans&quot;, sans-serif" font-weight="bold" fill="#1a6fc0">5</text>
<text x="1354.80" y="489.30" font-size="22.62" textLength="13.52" lengthAdjust="spacingAndGlyphs" font-family="Carlito, &quot;Liberation Sans&quot;, sans-serif" font-weight="bold" fill="#1a6fc0">6</text>
<text x="1155.40" y="935.10" font-size="24.31" textLength="77.80" lengthAdjust="spacingAndGlyphs" font-family="Carlito, &quot;Liberation Sans&quot;, sans-serif" font-weight="bold" fill="#3a3a3a">Peaks -</text>
<text x="1244.61" y="935.10" font-size="24.31" textLength="149.62" lengthAdjust="spacingAndGlyphs" font-family="Carlito, &quot;Liberation Sans&quot;, sans-serif" font-weight="bold" fill="#3a3a3a">1: 93.8mmHg</text>
<text x="1418.80" y="935.10" font-size="24.31" textLength="147.43" lengthAdjust="spacingAndGlyphs" font-family="Carlito, &quot;Liberation Sans&quot;, sans-serif" font-weight="bold" fill="#3a3a3a">2: 93.3mmHg</text>
<text x="1584.12" y="935.10" font-size="24.31" textLength="148.80" lengthAdjust="spacingAndGlyphs" font-family="Carlito, &quot;Liberation Sans&quot;, sans-serif" font-weight="bold" fill="#3a3a3a">3: 93.3mmHg</text>
<text x="1249.03" y="968.40" font-size="24.62" textLength="147.99" lengthAdjust="spacingAndGlyphs" font-family="Carlito, &quot;Liberation Sans&quot;, sans-serif" font-weight="bold" fill="#3a3a3a">4: 93.7mmHg</text>
<text x="1421.20" y="968.40" font-size="24.62" textLength="147.73" lengthAdjust="spacingAndGlyphs" font-family="Carlito, &quot;Liberation Sans&quot;, sans-serif" font-weight="bold" fill="#3a3a3a">5: 94.6mmHg</text>
<text x="1587.20" y="968.40" font-size="24.62" textLength="147.43" lengthAdjust="spacingAndGlyphs" font-family="Carlito, &quot;Liberation Sans&quot;, sans-serif" font-weight="bold" fill="#3a3a3a">6: 94.4mmHg</text>
<text x="5.97" y="22.90" font-size="30.43" textLength="22.32" lengthAdjust="spacingAndGlyphs" font-family="&quot;Liberation Sans&quot;, Arial, sans-serif" font-weight="bold" fill="#000">A</text>
<text x="437.19" y="23.10" font-size="30.58" textLength="21.78" lengthAdjust="spacingAndGlyphs" font-family="&quot;Liberation Sans&quot;, Arial, sans-serif" font-weight="bold" fill="#000">B</text>
<text x="1134.58" y="23.60" font-size="30.58" textLength="22.00" lengthAdjust="spacingAndGlyphs" font-family="&quot;Liberation Sans&quot;, Arial, sans-serif" font-weight="bold" fill="#000">C</text>
<text x="29.73" y="523.80" font-size="30.14" textLength="22.38" lengthAdjust="spacingAndGlyphs" font-family="&quot;Liberation Sans&quot;, Arial, sans-serif" font-weight="bold" fill="#000">D</text>
<text x="681.10" y="439.60" font-size="29.71" textLength="19.06" lengthAdjust="spacingAndGlyphs" font-family="&quot;Liberation Sans&quot;, Arial, sans-serif" font-weight="bold" fill="#000">E</text>
<text x="1188.26" y="439.80" font-size="29.71" textLength="19.55" lengthAdjust="spacingAndGlyphs" font-family="&quot;Liberation Sans&quot;, Arial, sans-serif" font-weight="bold" fill="#000">F</text>
<text x="17.67" y="172.60" font-size="24.15" textLength="115.04" lengthAdjust="spacingAndGlyphs" font-family="Carlito, &quot;Liberation Sans&quot;, sans-serif" font-weight="bold" fill="#000">Secondary</text>
<text x="17.66" y="205.60" font-size="24.62" textLength="109.42" lengthAdjust="spacingAndGlyphs" font-family="Carlito, &quot;Liberation Sans&quot;, sans-serif" font-weight="bold" fill="#000">Flow Path</text>
<text x="5.17" y="342.60" font-size="23.69" textLength="70.42" lengthAdjust="spacingAndGlyphs" font-family="Carlito, &quot;Liberation Sans&quot;, sans-serif" font-weight="bold" fill="#000">Outlet</text>
<text x="6.00" y="375.50" font-size="23.69" textLength="70.65" lengthAdjust="spacingAndGlyphs" font-family="Carlito, &quot;Liberation Sans&quot;, sans-serif" font-weight="bold" fill="#000">Volute</text>
<text x="105.13" y="439.50" font-size="24.31" textLength="92.54" lengthAdjust="spacingAndGlyphs" font-family="Carlito, &quot;Liberation Sans&quot;, sans-serif" font-weight="bold" fill="#000">Impeller</text>
<text x="374.89" y="449.40" font-size="24.00" textLength="51.72" lengthAdjust="spacingAndGlyphs" font-family="Carlito, &quot;Liberation Sans&quot;, sans-serif" font-weight="bold" fill="#000">Inlet</text>
<text x="377.50" y="481.60" font-size="22.77" textLength="70.55" lengthAdjust="spacingAndGlyphs" font-family="Carlito, &quot;Liberation Sans&quot;, sans-serif" font-weight="bold" fill="#000">Volute</text>
</svg>
</body></html>
